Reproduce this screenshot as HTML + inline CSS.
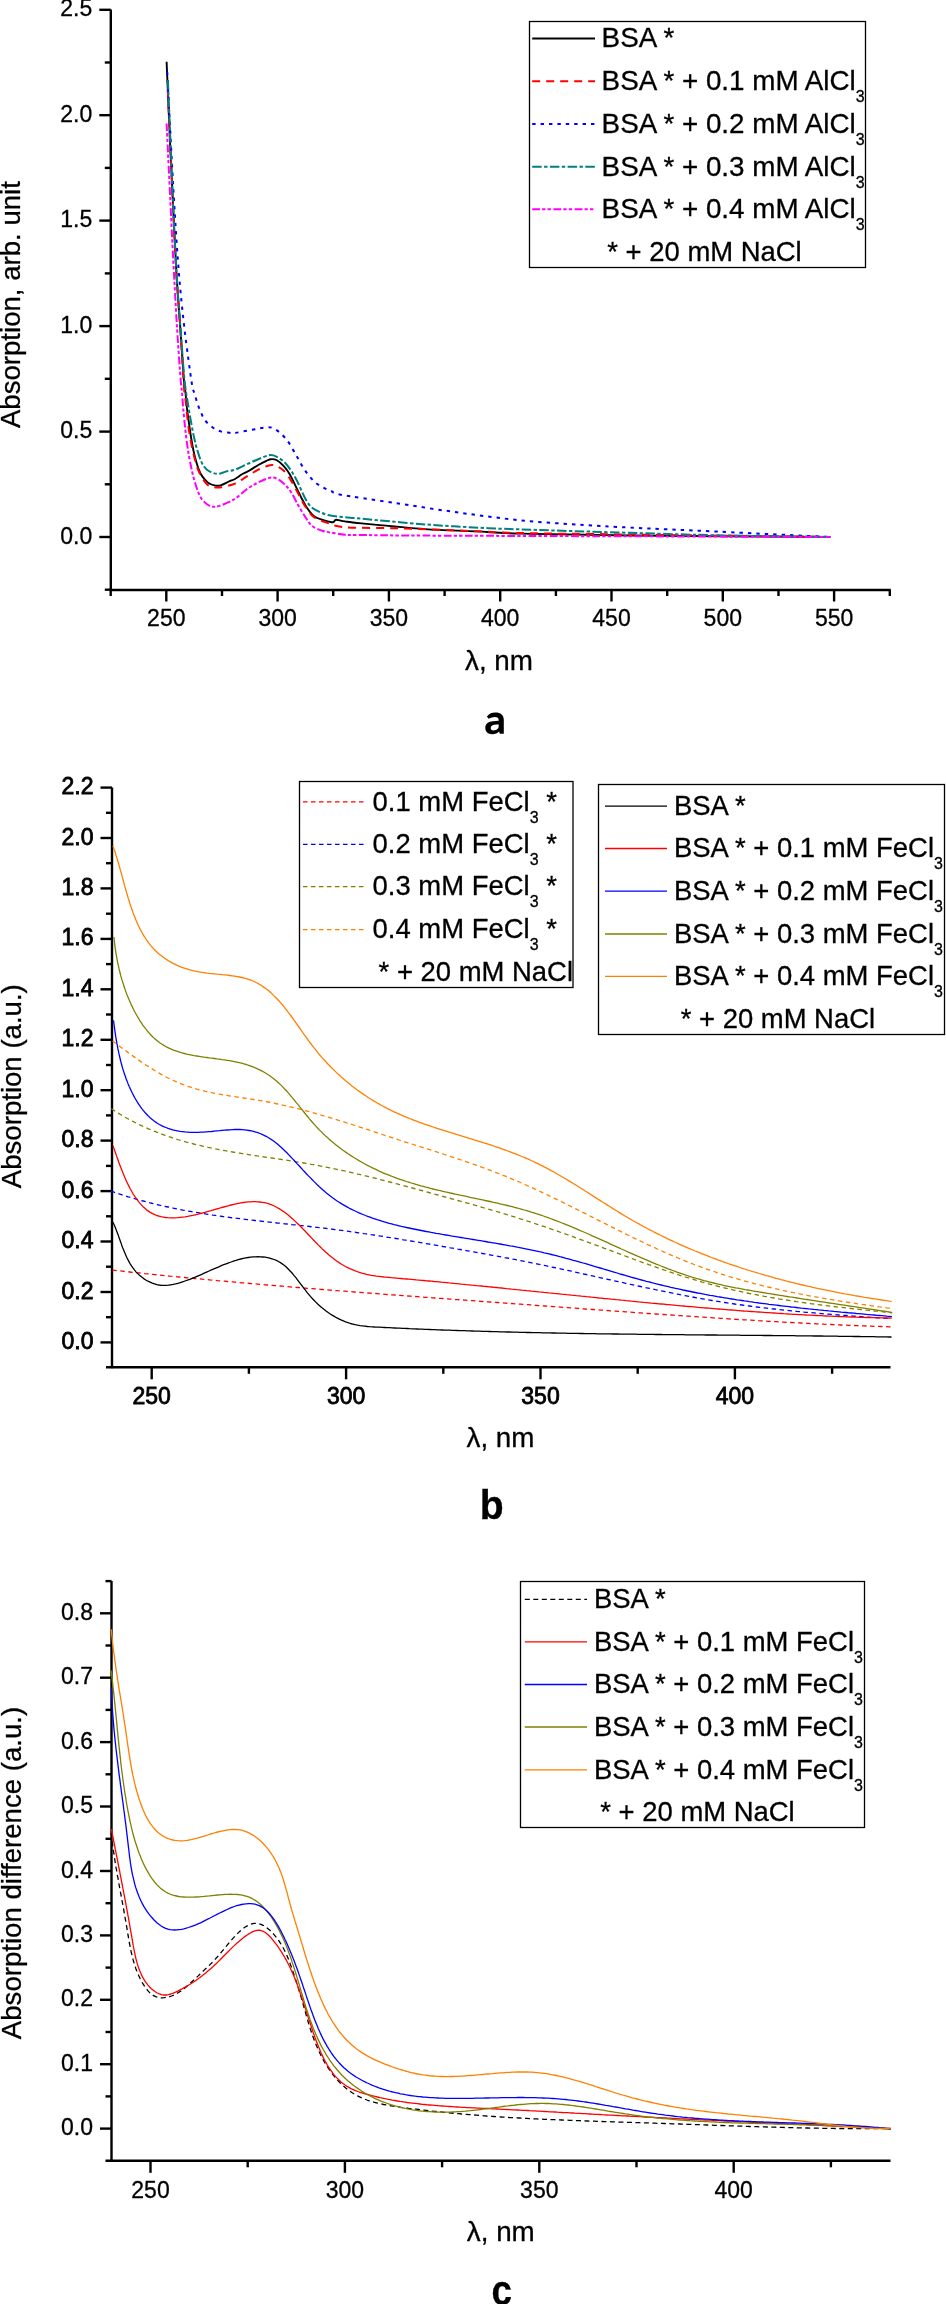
<!DOCTYPE html><html><head><meta charset="utf-8"><style>html,body{margin:0;padding:0;background:#fff;}svg{display:block;will-change:transform;}text{font-family:"Liberation Sans",sans-serif;fill:#000;stroke:#000;stroke-width:0.3px;} .tb{stroke-width:0.8px;} .lg{stroke-width:0.35px;}</style></head><body>
<svg width="946" height="2304" viewBox="0 0 946 2304">
<rect width="946" height="2304" fill="#fff"/>
<line x1="110.8" y1="9.5" x2="110.8" y2="591.0" stroke="#000" stroke-width="2.4"/>
<line x1="109.8" y1="590.0" x2="890.8" y2="590.0" stroke="#000" stroke-width="2.4"/>
<line x1="99.3" y1="537.0" x2="110.8" y2="537.0" stroke="#000" stroke-width="2.4"/>
<text x="92.3" y="543.5" font-size="23.0" text-anchor="end" font-weight="normal" >0.0</text>
<line x1="99.3" y1="431.6" x2="110.8" y2="431.6" stroke="#000" stroke-width="2.4"/>
<text x="92.3" y="438.1" font-size="23.0" text-anchor="end" font-weight="normal" >0.5</text>
<line x1="99.3" y1="326.1" x2="110.8" y2="326.1" stroke="#000" stroke-width="2.4"/>
<text x="92.3" y="332.6" font-size="23.0" text-anchor="end" font-weight="normal" >1.0</text>
<line x1="99.3" y1="220.6" x2="110.8" y2="220.6" stroke="#000" stroke-width="2.4"/>
<text x="92.3" y="227.1" font-size="23.0" text-anchor="end" font-weight="normal" >1.5</text>
<line x1="99.3" y1="115.2" x2="110.8" y2="115.2" stroke="#000" stroke-width="2.4"/>
<text x="92.3" y="121.7" font-size="23.0" text-anchor="end" font-weight="normal" >2.0</text>
<line x1="99.3" y1="9.8" x2="110.8" y2="9.8" stroke="#000" stroke-width="2.4"/>
<text x="92.3" y="16.2" font-size="23.0" text-anchor="end" font-weight="normal" >2.5</text>
<line x1="104.8" y1="589.7" x2="110.8" y2="589.7" stroke="#000" stroke-width="2.4"/>
<line x1="104.8" y1="484.3" x2="110.8" y2="484.3" stroke="#000" stroke-width="2.4"/>
<line x1="104.8" y1="378.8" x2="110.8" y2="378.8" stroke="#000" stroke-width="2.4"/>
<line x1="104.8" y1="273.4" x2="110.8" y2="273.4" stroke="#000" stroke-width="2.4"/>
<line x1="104.8" y1="167.9" x2="110.8" y2="167.9" stroke="#000" stroke-width="2.4"/>
<line x1="104.8" y1="62.5" x2="110.8" y2="62.5" stroke="#000" stroke-width="2.4"/>
<line x1="166.3" y1="590.0" x2="166.3" y2="601.5" stroke="#000" stroke-width="2.4"/>
<text x="166.3" y="626.3" font-size="23.0" text-anchor="middle" font-weight="normal" >250</text>
<line x1="277.6" y1="590.0" x2="277.6" y2="601.5" stroke="#000" stroke-width="2.4"/>
<text x="277.6" y="626.3" font-size="23.0" text-anchor="middle" font-weight="normal" >300</text>
<line x1="388.9" y1="590.0" x2="388.9" y2="601.5" stroke="#000" stroke-width="2.4"/>
<text x="388.9" y="626.3" font-size="23.0" text-anchor="middle" font-weight="normal" >350</text>
<line x1="500.2" y1="590.0" x2="500.2" y2="601.5" stroke="#000" stroke-width="2.4"/>
<text x="500.2" y="626.3" font-size="23.0" text-anchor="middle" font-weight="normal" >400</text>
<line x1="611.5" y1="590.0" x2="611.5" y2="601.5" stroke="#000" stroke-width="2.4"/>
<text x="611.5" y="626.3" font-size="23.0" text-anchor="middle" font-weight="normal" >450</text>
<line x1="722.8" y1="590.0" x2="722.8" y2="601.5" stroke="#000" stroke-width="2.4"/>
<text x="722.8" y="626.3" font-size="23.0" text-anchor="middle" font-weight="normal" >500</text>
<line x1="834.1" y1="590.0" x2="834.1" y2="601.5" stroke="#000" stroke-width="2.4"/>
<text x="834.1" y="626.3" font-size="23.0" text-anchor="middle" font-weight="normal" >550</text>
<line x1="110.7" y1="590.0" x2="110.7" y2="596.0" stroke="#000" stroke-width="2.4"/>
<line x1="222.0" y1="590.0" x2="222.0" y2="596.0" stroke="#000" stroke-width="2.4"/>
<line x1="333.2" y1="590.0" x2="333.2" y2="596.0" stroke="#000" stroke-width="2.4"/>
<line x1="444.6" y1="590.0" x2="444.6" y2="596.0" stroke="#000" stroke-width="2.4"/>
<line x1="555.9" y1="590.0" x2="555.9" y2="596.0" stroke="#000" stroke-width="2.4"/>
<line x1="667.2" y1="590.0" x2="667.2" y2="596.0" stroke="#000" stroke-width="2.4"/>
<line x1="778.5" y1="590.0" x2="778.5" y2="596.0" stroke="#000" stroke-width="2.4"/>
<line x1="889.8" y1="590.0" x2="889.8" y2="596.0" stroke="#000" stroke-width="2.4"/>
<text x="499.0" y="670.0" font-size="27.8" text-anchor="middle" font-weight="normal" >λ, nm</text>
<path transform="translate(485.3,712.4)" fill="#000" fill-rule="evenodd" d="M1.6,4.0 C4.2,0.9 6.8,0 9.8,0 C15.6,0 18.5,2.6 18.5,7.6 L18.5,21.4 L14.6,21.4 L13.7,19.1 C12.1,20.9 10,21.8 6.9,21.8 C2.6,21.8 0,19.4 0,15.4 C0,11.0 3.4,8.7 10.2,8.5 L13.4,8.4 L13.4,7.8 C13.4,5.6 12.1,4.5 9.6,4.5 C7.6,4.5 5.6,5.2 3.3,6.3 Z M13.4,12.0 L11.3,12.1 C7.3,12.3 5.4,13.4 5.4,15.5 C5.4,17.2 6.5,18.0 8.3,18.0 C11.1,18.0 13.4,16.5 13.4,13.6 Z"/>
<text transform="translate(20,304.6) rotate(-90)" font-size="27.6" text-anchor="middle">Absorption, arb. unit</text>
<path d="M166.6,61.7 C167.1,73.1 168.5,107.0 169.5,130.0 C170.5,153.1 171.6,176.0 172.8,200.0 C174.0,224.0 175.2,252.2 176.5,274.2 C177.8,296.2 179.4,314.4 180.6,332.0 C181.8,349.6 183.1,369.9 183.9,380.0 C184.7,390.1 185.0,387.9 185.5,392.7 C186.0,397.4 186.3,402.7 187.0,408.5 C187.7,414.3 188.8,421.8 189.6,427.6 C190.4,433.4 191.2,438.6 192.1,443.4 C192.9,448.1 193.6,451.9 194.7,456.1 C195.8,460.3 197.2,465.4 198.5,468.8 C199.8,472.2 200.7,474.1 202.3,476.4 C203.9,478.7 205.8,481.2 208.0,482.7 C210.2,484.2 213.5,485.2 215.6,485.6 C217.7,486.0 218.5,486.0 220.7,485.3 C222.9,484.6 226.5,482.6 228.9,481.5 C231.3,480.4 232.8,480.2 235.0,479.0 C237.2,477.8 239.7,475.7 242.0,474.3 C244.3,472.9 246.3,472.4 249.0,470.8 C251.7,469.2 255.4,466.6 258.3,465.0 C261.2,463.4 264.3,461.9 266.4,460.9 C268.5,459.9 269.2,459.3 271.0,459.2 C272.8,459.1 274.8,459.1 276.9,460.3 C279.0,461.5 281.7,463.9 283.8,466.2 C285.9,468.5 287.8,471.0 289.7,474.3 C291.6,477.6 293.6,482.0 295.5,485.9 C297.4,489.8 299.4,493.9 301.3,497.6 C303.2,501.3 305.0,504.9 307.1,508.0 C309.2,511.1 311.4,514.2 314.1,516.2 C316.8,518.2 320.5,519.2 323.4,520.2 C326.3,521.2 329.7,522.0 331.5,522.2 C333.3,522.4 333.2,522.0 334.0,521.6 C334.8,521.2 334.4,519.7 336.2,519.7 C338.0,519.7 340.8,520.8 345.0,521.4 C349.2,522.0 348.3,522.1 361.7,523.4 C375.1,524.7 406.1,527.8 425.1,529.1 C444.1,530.4 460.0,530.6 475.9,531.4 C491.8,532.1 494.6,532.9 520.3,533.6 C546.0,534.3 578.3,534.9 630.0,535.5 C681.7,536.1 796.9,536.8 830.3,537.0" fill="none" stroke="#000" stroke-width="1.9" stroke-linejoin="round" />
<path d="M167.8,90.7 C168.6,108.9 171.4,169.4 172.8,200.0 C174.2,230.6 175.2,252.2 176.5,274.2 C177.8,296.2 179.4,313.3 180.6,332.0 C181.8,350.7 183.0,374.6 183.9,386.3 C184.8,398.0 185.0,394.8 185.8,402.2 C186.7,409.6 187.6,421.7 189.0,430.7 C190.4,439.7 192.3,449.2 194.0,456.1 C195.7,463.0 197.0,467.4 199.1,472.0 C201.2,476.6 204.2,481.5 206.7,484.0 C209.2,486.5 211.9,486.7 214.3,487.2 C216.7,487.7 217.9,487.8 221.3,487.2 C224.8,486.6 230.8,485.4 235.0,483.6 C239.2,481.8 242.7,478.9 246.6,476.6 C250.5,474.3 254.4,471.6 258.3,469.7 C262.2,467.8 266.8,465.8 269.9,465.2 C273.0,464.6 274.6,465.3 276.9,466.2 C279.2,467.1 281.5,468.5 283.8,470.8 C286.1,473.1 288.5,476.4 290.8,480.1 C293.1,483.8 295.5,488.6 297.8,492.9 C300.1,497.2 302.1,501.6 304.8,505.7 C307.5,509.8 310.2,514.4 314.1,517.3 C318.0,520.2 322.9,521.5 328.0,523.1 C333.1,524.8 334.1,526.4 345.0,527.2 C355.9,528.1 374.8,527.7 393.4,528.2 C412.0,528.7 435.8,529.6 456.9,530.4 C478.0,531.2 491.4,532.3 520.3,533.0 C549.1,533.7 578.3,533.8 630.0,534.5 C681.7,535.2 796.9,536.6 830.3,537.0" fill="none" stroke="#ff0000" stroke-width="2" stroke-dasharray="8 6" stroke-linejoin="round" />
<path d="M167.2,71.7 C168.3,93.1 172.0,166.2 174.0,200.0 C176.0,233.8 177.3,253.6 179.0,274.2 C180.7,294.8 182.3,309.4 183.9,323.7 C185.5,338.0 187.1,349.8 188.5,360.0 C189.9,370.2 191.1,379.4 192.1,385.1 C193.1,390.8 193.8,391.1 194.7,394.0 C195.5,396.9 196.2,399.9 197.2,402.8 C198.1,405.7 199.1,408.2 200.4,411.1 C201.7,414.0 202.8,417.3 204.8,420.0 C206.8,422.7 209.8,425.3 212.4,427.2 C215.1,429.1 217.8,430.5 220.7,431.4 C223.5,432.3 227.1,432.5 229.5,432.8 C231.9,433.1 232.2,433.4 235.0,433.0 C237.8,432.6 242.7,431.4 246.6,430.7 C250.5,430.0 254.8,429.3 258.3,428.7 C261.8,428.1 265.1,427.2 267.6,427.2 C270.1,427.1 271.3,427.4 273.4,428.4 C275.5,429.4 278.0,431.0 280.3,433.0 C282.6,435.0 285.2,437.8 287.3,440.6 C289.4,443.4 291.4,447.0 293.1,449.9 C294.9,452.8 296.2,455.3 297.8,458.0 C299.4,460.7 300.6,463.4 302.4,466.2 C304.1,469.0 306.2,472.2 308.3,474.9 C310.4,477.6 312.7,480.3 315.2,482.4 C317.7,484.5 320.7,486.2 323.4,487.7 C326.1,489.2 328.6,490.0 331.5,491.2 C334.4,492.4 330.5,492.8 340.8,494.7 C351.1,496.6 374.0,499.9 393.4,502.8 C412.8,505.7 435.8,509.4 456.9,512.3 C478.0,515.2 499.2,518.2 520.3,520.3 C541.4,522.4 565.4,523.8 583.7,525.0 C602.0,526.2 607.7,526.5 630.0,527.6 C652.3,528.7 683.9,530.0 717.3,531.6 C750.7,533.2 811.5,536.1 830.3,537.0" fill="none" stroke="#0000ff" stroke-width="2" stroke-dasharray="3.4 5" stroke-linejoin="round" />
<path d="M167.9,80.0 C168.7,100.0 171.5,167.6 172.9,200.0 C174.3,232.4 175.3,252.2 176.6,274.2 C177.9,296.2 179.5,314.4 180.8,332.0 C182.1,349.6 183.3,368.3 184.5,380.0 C185.7,391.7 186.6,395.3 187.7,402.2 C188.8,409.1 189.8,415.4 190.9,421.2 C192.0,427.0 192.9,432.3 194.0,437.1 C195.1,441.9 195.9,445.6 197.2,449.8 C198.5,454.0 200.0,459.1 201.6,462.4 C203.2,465.7 204.8,467.6 206.7,469.4 C208.6,471.1 211.0,472.2 213.0,472.9 C215.0,473.6 216.7,474.0 218.8,473.8 C220.9,473.6 223.0,472.3 225.7,471.6 C228.4,470.9 231.5,470.9 235.0,469.7 C238.5,468.5 242.7,466.1 246.6,464.4 C250.5,462.6 254.4,460.8 258.3,459.2 C262.2,457.6 266.8,455.5 269.9,455.1 C273.0,454.7 274.4,455.6 276.9,456.9 C279.4,458.2 282.5,460.2 285.0,462.7 C287.5,465.2 289.9,468.7 292.0,472.0 C294.1,475.3 295.9,478.5 297.8,482.4 C299.7,486.3 301.7,491.4 303.6,495.2 C305.5,499.0 307.3,502.6 309.4,505.1 C311.5,507.6 313.3,508.7 316.4,510.3 C319.5,511.9 323.2,513.8 328.0,515.0 C332.8,516.2 339.4,516.7 345.0,517.3 C350.6,517.9 348.3,517.5 361.7,518.7 C375.1,519.9 404.0,522.8 425.1,524.4 C446.2,526.0 467.5,527.2 488.6,528.2 C509.8,529.2 528.4,529.6 552.0,530.4 C575.6,531.2 602.5,532.0 630.0,532.8 C657.5,533.6 683.9,534.6 717.3,535.3 C750.7,536.0 811.5,536.7 830.3,537.0" fill="none" stroke="#008080" stroke-width="2" stroke-dasharray="9.5 2.4 3.4 2.4" stroke-linejoin="round" />
<path d="M166.6,123.5 C167.2,136.2 169.1,174.9 170.3,200.0 C171.5,225.1 172.8,252.2 174.0,274.2 C175.2,296.2 176.2,314.4 177.3,332.0 C178.4,349.6 179.9,369.9 180.7,380.0 C181.5,390.1 181.6,387.9 182.0,392.7 C182.4,397.4 182.7,402.7 183.2,408.5 C183.7,414.3 184.5,421.8 185.1,427.6 C185.7,433.4 186.3,438.6 187.0,443.4 C187.7,448.1 188.2,451.9 189.0,456.1 C189.8,460.3 190.6,464.6 191.5,468.8 C192.4,473.0 193.5,477.5 194.7,481.5 C195.9,485.5 197.1,489.7 198.5,492.9 C199.9,496.1 200.9,498.3 202.9,500.5 C204.9,502.7 207.8,505.3 210.5,506.2 C213.2,507.1 215.3,507.1 219.4,505.9 C223.5,504.6 230.5,501.4 235.0,498.7 C239.5,495.9 242.7,492.1 246.6,489.4 C250.5,486.7 254.4,484.3 258.3,482.4 C262.2,480.5 266.8,478.4 269.9,477.8 C273.0,477.2 274.6,477.7 276.9,478.7 C279.2,479.7 281.5,481.4 283.8,483.6 C286.1,485.8 288.5,488.2 290.8,491.7 C293.1,495.2 295.5,500.4 297.8,504.5 C300.1,508.6 302.5,512.7 304.8,516.2 C307.1,519.7 308.8,523.1 311.7,525.5 C314.6,527.9 318.5,529.5 322.2,530.7 C325.9,532.0 330.0,532.3 333.8,533.0 C337.6,533.7 340.4,534.5 345.0,534.8 C349.6,535.1 348.3,534.9 361.7,535.0 C375.1,535.1 380.4,535.4 425.1,535.6 C469.8,535.8 562.5,536.1 630.0,536.3 C697.5,536.5 796.9,536.9 830.3,537.0" fill="none" stroke="#ff00ff" stroke-width="2" stroke-dasharray="7.8 2.1 3.3 2.1 3.4 2.5" stroke-linejoin="round" />
<rect x="529.5" y="21.5" width="336" height="246" fill="none" stroke="#000" stroke-width="1.3"/>
<line x1="532.2" y1="38.4" x2="595" y2="38.4" stroke="#000" stroke-width="2"/>
<text x="601.6" y="47.1" font-size="27.8" text-anchor="start" font-weight="normal" >BSA *</text>
<line x1="532.2" y1="81.3" x2="595" y2="81.3" stroke="#ff0000" stroke-width="2" stroke-dasharray="8 6"/>
<text x="601.6" y="90.0" font-size="27.8" text-anchor="start" font-weight="normal" >BSA * + 0.1 mM AlCl<tspan font-size="16" dy="12">3</tspan></text>
<line x1="532.2" y1="124.0" x2="595" y2="124.0" stroke="#0000ff" stroke-width="2" stroke-dasharray="3.4 5"/>
<text x="601.6" y="132.7" font-size="27.8" text-anchor="start" font-weight="normal" >BSA * + 0.2 mM AlCl<tspan font-size="16" dy="12">3</tspan></text>
<line x1="532.2" y1="166.8" x2="595" y2="166.8" stroke="#008080" stroke-width="2" stroke-dasharray="9.5 2.4 3.4 2.4"/>
<text x="601.6" y="175.5" font-size="27.8" text-anchor="start" font-weight="normal" >BSA * + 0.3 mM AlCl<tspan font-size="16" dy="12">3</tspan></text>
<line x1="532.2" y1="209.3" x2="595" y2="209.3" stroke="#ff00ff" stroke-width="2" stroke-dasharray="7.8 2.1 3.3 2.1 3.4 2.5"/>
<text x="601.6" y="218.0" font-size="27.8" text-anchor="start" font-weight="normal" >BSA * + 0.4 mM AlCl<tspan font-size="16" dy="12">3</tspan></text>
<text x="607.3" y="261.0" font-size="27.45" text-anchor="start" font-weight="normal" >* + 20 mM NaCl</text>
<line x1="112.0" y1="787.6" x2="112.0" y2="1368.3" stroke="#000" stroke-width="2.4"/>
<line x1="106.0" y1="1367.3" x2="890.5" y2="1367.3" stroke="#000" stroke-width="2.4"/>
<line x1="100.5" y1="1342.4" x2="112.0" y2="1342.4" stroke="#000" stroke-width="2.4"/>
<text x="93.5" y="1348.9" font-size="23.0" text-anchor="end" font-weight="normal" class="tb" >0.0</text>
<line x1="100.5" y1="1292.0" x2="112.0" y2="1292.0" stroke="#000" stroke-width="2.4"/>
<text x="93.5" y="1298.5" font-size="23.0" text-anchor="end" font-weight="normal" class="tb" >0.2</text>
<line x1="100.5" y1="1241.5" x2="112.0" y2="1241.5" stroke="#000" stroke-width="2.4"/>
<text x="93.5" y="1248.0" font-size="23.0" text-anchor="end" font-weight="normal" class="tb" >0.4</text>
<line x1="100.5" y1="1191.1" x2="112.0" y2="1191.1" stroke="#000" stroke-width="2.4"/>
<text x="93.5" y="1197.6" font-size="23.0" text-anchor="end" font-weight="normal" class="tb" >0.6</text>
<line x1="100.5" y1="1140.6" x2="112.0" y2="1140.6" stroke="#000" stroke-width="2.4"/>
<text x="93.5" y="1147.1" font-size="23.0" text-anchor="end" font-weight="normal" class="tb" >0.8</text>
<line x1="100.5" y1="1090.2" x2="112.0" y2="1090.2" stroke="#000" stroke-width="2.4"/>
<text x="93.5" y="1096.7" font-size="23.0" text-anchor="end" font-weight="normal" class="tb" >1.0</text>
<line x1="100.5" y1="1039.8" x2="112.0" y2="1039.8" stroke="#000" stroke-width="2.4"/>
<text x="93.5" y="1046.3" font-size="23.0" text-anchor="end" font-weight="normal" class="tb" >1.2</text>
<line x1="100.5" y1="989.3" x2="112.0" y2="989.3" stroke="#000" stroke-width="2.4"/>
<text x="93.5" y="995.8" font-size="23.0" text-anchor="end" font-weight="normal" class="tb" >1.4</text>
<line x1="100.5" y1="938.9" x2="112.0" y2="938.9" stroke="#000" stroke-width="2.4"/>
<text x="93.5" y="945.4" font-size="23.0" text-anchor="end" font-weight="normal" class="tb" >1.6</text>
<line x1="100.5" y1="888.4" x2="112.0" y2="888.4" stroke="#000" stroke-width="2.4"/>
<text x="93.5" y="894.9" font-size="23.0" text-anchor="end" font-weight="normal" class="tb" >1.8</text>
<line x1="100.5" y1="838.0" x2="112.0" y2="838.0" stroke="#000" stroke-width="2.4"/>
<text x="93.5" y="844.5" font-size="23.0" text-anchor="end" font-weight="normal" class="tb" >2.0</text>
<line x1="100.5" y1="787.6" x2="112.0" y2="787.6" stroke="#000" stroke-width="2.4"/>
<text x="93.5" y="794.1" font-size="23.0" text-anchor="end" font-weight="normal" class="tb" >2.2</text>
<line x1="106.0" y1="1317.2" x2="112.0" y2="1317.2" stroke="#000" stroke-width="2.4"/>
<line x1="106.0" y1="1266.7" x2="112.0" y2="1266.7" stroke="#000" stroke-width="2.4"/>
<line x1="106.0" y1="1216.3" x2="112.0" y2="1216.3" stroke="#000" stroke-width="2.4"/>
<line x1="106.0" y1="1165.9" x2="112.0" y2="1165.9" stroke="#000" stroke-width="2.4"/>
<line x1="106.0" y1="1115.4" x2="112.0" y2="1115.4" stroke="#000" stroke-width="2.4"/>
<line x1="106.0" y1="1065.0" x2="112.0" y2="1065.0" stroke="#000" stroke-width="2.4"/>
<line x1="106.0" y1="1014.5" x2="112.0" y2="1014.5" stroke="#000" stroke-width="2.4"/>
<line x1="106.0" y1="964.1" x2="112.0" y2="964.1" stroke="#000" stroke-width="2.4"/>
<line x1="106.0" y1="913.7" x2="112.0" y2="913.7" stroke="#000" stroke-width="2.4"/>
<line x1="106.0" y1="863.2" x2="112.0" y2="863.2" stroke="#000" stroke-width="2.4"/>
<line x1="106.0" y1="812.8" x2="112.0" y2="812.8" stroke="#000" stroke-width="2.4"/>
<line x1="151.7" y1="1367.3" x2="151.7" y2="1379.3" stroke="#000" stroke-width="2.4"/>
<text x="151.7" y="1404.3" font-size="23.0" text-anchor="middle" font-weight="normal" class="tb" >250</text>
<line x1="346.1" y1="1367.3" x2="346.1" y2="1379.3" stroke="#000" stroke-width="2.4"/>
<text x="346.1" y="1404.3" font-size="23.0" text-anchor="middle" font-weight="normal" class="tb" >300</text>
<line x1="540.5" y1="1367.3" x2="540.5" y2="1379.3" stroke="#000" stroke-width="2.4"/>
<text x="540.5" y="1404.3" font-size="23.0" text-anchor="middle" font-weight="normal" class="tb" >350</text>
<line x1="734.9" y1="1367.3" x2="734.9" y2="1379.3" stroke="#000" stroke-width="2.4"/>
<text x="734.9" y="1404.3" font-size="23.0" text-anchor="middle" font-weight="normal" class="tb" >400</text>
<line x1="248.9" y1="1367.3" x2="248.9" y2="1373.8" stroke="#000" stroke-width="2.4"/>
<line x1="443.3" y1="1367.3" x2="443.3" y2="1373.8" stroke="#000" stroke-width="2.4"/>
<line x1="637.7" y1="1367.3" x2="637.7" y2="1373.8" stroke="#000" stroke-width="2.4"/>
<line x1="832.1" y1="1367.3" x2="832.1" y2="1373.8" stroke="#000" stroke-width="2.4"/>
<text x="500.5" y="1447.2" font-size="27.8" text-anchor="middle" font-weight="normal" >λ, nm</text>
<text transform="translate(491.6,1519.2) scale(0.98,1)" font-size="40" text-anchor="middle" font-weight="bold">b</text>
<text transform="translate(20.5,1086.2) rotate(-90)" font-size="27.6" text-anchor="middle">Absorption (a.u.)</text>
<path d="M112.3,1270.1 L114.8,1270.4 L117.3,1270.7 L119.8,1270.9 L122.3,1271.2 L124.8,1271.5 L127.3,1271.7 L129.8,1272.0 L132.3,1272.3 L134.8,1272.5 L137.3,1272.8 L139.8,1273.0 L142.3,1273.3 L144.8,1273.6 L147.3,1273.8 L149.8,1274.1 L152.3,1274.3 L154.8,1274.6 L157.3,1274.8 L159.8,1275.1 L162.3,1275.3 L164.8,1275.6 L167.3,1275.8 L169.8,1276.1 L172.3,1276.3 L174.8,1276.6 L177.3,1276.8 L179.8,1277.0 L182.3,1277.3 L184.8,1277.5 L187.3,1277.8 L189.8,1278.0 L192.3,1278.2 L194.8,1278.5 L197.3,1278.7 L199.8,1278.9 L202.4,1279.2 L204.9,1279.4 L207.4,1279.6 L209.9,1279.9 L212.4,1280.1 L214.9,1280.3 L217.4,1280.6 L219.9,1280.8 L222.4,1281.0 L224.9,1281.2 L227.4,1281.5 L229.9,1281.7 L232.4,1281.9 L234.9,1282.1 L237.4,1282.4 L239.9,1282.6 L242.4,1282.8 L244.9,1283.0 L247.4,1283.2 L249.9,1283.5 L252.4,1283.7 L254.9,1283.9 L257.4,1284.1 L259.9,1284.3 L262.4,1284.5 L264.9,1284.8 L267.4,1285.0 L269.9,1285.2 L272.4,1285.4 L274.9,1285.6 L277.4,1285.8 L279.9,1286.0 L282.4,1286.2 L284.9,1286.4 L287.4,1286.6 L289.9,1286.8 L292.4,1287.1 L294.9,1287.3 L297.5,1287.5 L300.0,1287.7 L302.5,1287.9 L305.0,1288.1 L307.5,1288.3 L310.0,1288.5 L312.5,1288.7 L315.0,1288.9 L317.5,1289.1 L320.0,1289.3 L322.5,1289.5 L325.0,1289.7 L327.5,1289.9 L330.0,1290.1 L332.5,1290.3 L335.0,1290.5 L337.5,1290.7 L340.0,1290.8 L342.5,1291.0 L345.0,1291.2 L347.5,1291.4 L350.0,1291.6 L352.5,1291.8 L355.0,1292.0 L357.5,1292.2 L360.0,1292.4 L362.6,1292.6 L365.1,1292.8 L367.6,1293.0 L370.1,1293.2 L372.6,1293.3 L375.1,1293.5 L377.6,1293.7 L380.1,1293.9 L382.6,1294.1 L385.1,1294.3 L387.6,1294.5 L390.1,1294.7 L392.6,1294.9 L395.1,1295.0 L397.6,1295.2 L400.1,1295.4 L402.6,1295.6 L405.1,1295.8 L407.6,1296.0 L410.1,1296.2 L412.6,1296.3 L415.1,1296.5 L417.7,1296.7 L420.2,1296.9 L422.7,1297.1 L425.2,1297.3 L427.7,1297.4 L430.2,1297.6 L432.7,1297.8 L435.2,1298.0 L437.7,1298.2 L440.2,1298.4 L442.7,1298.5 L445.2,1298.7 L447.7,1298.9 L450.2,1299.1 L452.7,1299.3 L455.2,1299.5 L457.7,1299.6 L460.2,1299.8 L462.7,1300.0 L465.3,1300.2 L467.8,1300.4 L470.3,1300.5 L472.8,1300.7 L475.3,1300.9 L477.8,1301.1 L480.3,1301.3 L482.8,1301.5 L485.3,1301.6 L487.8,1301.8 L490.3,1302.0 L492.8,1302.2 L495.3,1302.4 L497.8,1302.5 L500.3,1302.7 L502.8,1302.9 L505.3,1303.1 L507.9,1303.3 L510.4,1303.5 L512.9,1303.6 L515.4,1303.8 L517.9,1304.0 L520.4,1304.2 L522.9,1304.4 L525.4,1304.5 L527.9,1304.7 L530.4,1304.9 L532.9,1305.1 L535.4,1305.3 L537.9,1305.5 L540.4,1305.6 L542.9,1305.8 L545.5,1306.0 L548.0,1306.2 L550.5,1306.4 L553.0,1306.6 L555.5,1306.7 L558.0,1306.9 L560.5,1307.1 L563.0,1307.3 L565.5,1307.5 L568.0,1307.7 L570.5,1307.9 L573.0,1308.0 L575.5,1308.2 L578.0,1308.4 L580.5,1308.6 L583.1,1308.8 L585.6,1309.0 L588.1,1309.1 L590.6,1309.3 L593.1,1309.5 L595.6,1309.7 L598.1,1309.9 L600.6,1310.1 L603.1,1310.2 L605.6,1310.4 L608.1,1310.6 L610.6,1310.8 L613.1,1311.0 L615.6,1311.1 L618.1,1311.3 L620.7,1311.5 L623.2,1311.7 L625.7,1311.9 L628.2,1312.0 L630.7,1312.2 L633.2,1312.4 L635.7,1312.6 L638.2,1312.8 L640.7,1312.9 L643.2,1313.1 L645.7,1313.3 L648.2,1313.5 L650.7,1313.7 L653.3,1313.8 L655.8,1314.0 L658.3,1314.2 L660.8,1314.4 L663.3,1314.5 L665.8,1314.7 L668.3,1314.9 L670.8,1315.0 L673.3,1315.2 L675.8,1315.4 L678.3,1315.6 L680.8,1315.7 L683.3,1315.9 L685.8,1316.1 L688.4,1316.2 L690.9,1316.4 L693.4,1316.6 L695.9,1316.7 L698.4,1316.9 L700.9,1317.1 L703.4,1317.2 L705.9,1317.4 L708.4,1317.6 L710.9,1317.7 L713.4,1317.9 L715.9,1318.1 L718.5,1318.2 L721.0,1318.4 L723.5,1318.5 L726.0,1318.7 L728.5,1318.9 L731.0,1319.0 L733.5,1319.2 L736.0,1319.3 L738.5,1319.5 L741.0,1319.6 L743.5,1319.8 L746.0,1319.9 L748.5,1320.1 L751.1,1320.2 L753.6,1320.4 L756.1,1320.5 L758.6,1320.7 L761.1,1320.8 L763.6,1321.0 L766.1,1321.1 L768.6,1321.3 L771.1,1321.4 L773.6,1321.6 L776.1,1321.7 L778.6,1321.8 L781.2,1322.0 L783.7,1322.1 L786.2,1322.3 L788.7,1322.4 L791.2,1322.5 L793.7,1322.7 L796.2,1322.8 L798.7,1322.9 L801.2,1323.0 L803.7,1323.2 L806.2,1323.3 L808.7,1323.4 L811.3,1323.6 L813.8,1323.7 L816.3,1323.8 L818.8,1323.9 L821.3,1324.0 L823.8,1324.2 L826.3,1324.3 L828.8,1324.4 L831.3,1324.5 L833.8,1324.6 L836.3,1324.7 L838.8,1324.9 L841.4,1325.0 L843.9,1325.1 L846.4,1325.2 L848.9,1325.3 L851.4,1325.4 L853.9,1325.5 L856.4,1325.6 L858.9,1325.7 L861.4,1325.8 L863.9,1325.9 L866.4,1326.0 L868.9,1326.1 L871.5,1326.2 L874.0,1326.3 L876.5,1326.4 L879.0,1326.4 L881.5,1326.5 L884.0,1326.6 L886.5,1326.7 L889.0,1326.8 L891.5,1326.9" fill="none" stroke="#ff0000" stroke-width="1.3" stroke-dasharray="4.5 3.5" stroke-linejoin="round"/>
<path d="M110.8,1191.1 L113.3,1191.9 L115.8,1192.8 L118.3,1193.6 L120.7,1194.4 L123.2,1195.2 L125.7,1196.0 L128.2,1196.8 L130.7,1197.5 L133.2,1198.2 L135.7,1199.0 L138.2,1199.7 L140.7,1200.4 L143.2,1201.0 L145.7,1201.7 L148.2,1202.3 L150.6,1203.0 L153.1,1203.6 L155.6,1204.2 L158.1,1204.8 L160.6,1205.4 L163.1,1205.9 L165.6,1206.5 L168.1,1207.0 L170.5,1207.6 L173.0,1208.1 L175.5,1208.6 L178.0,1209.1 L180.5,1209.6 L183.0,1210.1 L185.5,1210.5 L187.9,1211.0 L190.4,1211.4 L192.9,1211.9 L195.4,1212.3 L197.9,1212.7 L200.4,1213.1 L202.9,1213.5 L205.3,1213.9 L207.8,1214.3 L210.3,1214.7 L212.8,1215.1 L215.3,1215.4 L217.8,1215.8 L220.2,1216.1 L222.7,1216.5 L225.2,1216.8 L227.7,1217.1 L230.2,1217.5 L232.6,1217.8 L235.1,1218.1 L237.6,1218.4 L240.1,1218.7 L242.6,1219.0 L245.0,1219.3 L247.5,1219.6 L250.0,1219.9 L252.5,1220.2 L255.0,1220.5 L257.4,1220.8 L259.9,1221.0 L262.4,1221.3 L264.9,1221.6 L267.4,1221.9 L269.8,1222.1 L272.3,1222.4 L274.8,1222.7 L277.3,1223.0 L279.7,1223.2 L282.2,1223.5 L284.7,1223.8 L287.2,1224.0 L289.7,1224.3 L292.1,1224.6 L294.6,1224.8 L297.1,1225.1 L299.6,1225.4 L302.0,1225.6 L304.5,1225.9 L307.0,1226.2 L309.5,1226.5 L311.9,1226.8 L314.4,1227.0 L316.9,1227.3 L319.4,1227.6 L321.8,1227.9 L324.3,1228.2 L326.8,1228.5 L329.3,1228.8 L331.7,1229.1 L334.2,1229.5 L336.7,1229.8 L339.2,1230.1 L341.6,1230.4 L344.1,1230.8 L346.6,1231.1 L349.0,1231.4 L351.5,1231.8 L354.0,1232.1 L356.5,1232.5 L358.9,1232.8 L361.4,1233.2 L363.9,1233.6 L366.4,1233.9 L368.8,1234.3 L371.3,1234.7 L373.8,1235.0 L376.2,1235.4 L378.7,1235.8 L381.2,1236.2 L383.7,1236.6 L386.1,1237.0 L388.6,1237.4 L391.1,1237.7 L393.5,1238.1 L396.0,1238.5 L398.5,1238.9 L401.0,1239.3 L403.4,1239.8 L405.9,1240.2 L408.4,1240.6 L410.8,1241.0 L413.3,1241.4 L415.8,1241.8 L418.2,1242.2 L420.7,1242.6 L423.2,1243.1 L425.7,1243.5 L428.1,1243.9 L430.6,1244.3 L433.1,1244.8 L435.5,1245.2 L438.0,1245.6 L440.5,1246.0 L442.9,1246.5 L445.4,1246.9 L447.9,1247.3 L450.4,1247.8 L452.8,1248.2 L455.3,1248.6 L457.8,1249.1 L460.2,1249.5 L462.7,1249.9 L465.2,1250.4 L467.6,1250.8 L470.1,1251.3 L472.6,1251.7 L475.1,1252.1 L477.5,1252.6 L480.0,1253.0 L482.5,1253.5 L484.9,1253.9 L487.4,1254.4 L489.9,1254.8 L492.3,1255.3 L494.8,1255.7 L497.3,1256.2 L499.7,1256.6 L502.2,1257.1 L504.7,1257.6 L507.2,1258.0 L509.6,1258.5 L512.1,1259.0 L514.6,1259.4 L517.0,1259.9 L519.5,1260.4 L522.0,1260.9 L524.4,1261.4 L526.9,1261.9 L529.4,1262.4 L531.8,1262.9 L534.3,1263.4 L536.8,1263.9 L539.3,1264.4 L541.7,1264.9 L544.2,1265.4 L546.7,1265.9 L549.1,1266.5 L551.6,1267.0 L554.1,1267.5 L556.5,1268.0 L559.0,1268.6 L561.5,1269.1 L564.0,1269.6 L566.4,1270.2 L568.9,1270.7 L571.4,1271.2 L573.8,1271.8 L576.3,1272.3 L578.8,1272.9 L581.2,1273.4 L583.7,1274.0 L586.2,1274.5 L588.7,1275.1 L591.1,1275.6 L593.6,1276.2 L596.1,1276.7 L598.5,1277.3 L601.0,1277.8 L603.5,1278.4 L605.9,1278.9 L608.4,1279.5 L610.9,1280.0 L613.4,1280.6 L615.8,1281.1 L618.3,1281.7 L620.8,1282.2 L623.2,1282.7 L625.7,1283.3 L628.2,1283.8 L630.7,1284.4 L633.1,1284.9 L635.6,1285.4 L638.1,1286.0 L640.6,1286.5 L643.0,1287.0 L645.5,1287.6 L648.0,1288.1 L650.4,1288.6 L652.9,1289.1 L655.4,1289.7 L657.9,1290.2 L660.3,1290.7 L662.8,1291.2 L665.3,1291.7 L667.8,1292.2 L670.2,1292.7 L672.7,1293.2 L675.2,1293.7 L677.7,1294.2 L680.1,1294.7 L682.6,1295.1 L685.1,1295.6 L687.6,1296.1 L690.0,1296.6 L692.5,1297.0 L695.0,1297.5 L697.5,1297.9 L699.9,1298.4 L702.4,1298.8 L704.9,1299.2 L707.4,1299.7 L709.8,1300.1 L712.3,1300.5 L714.8,1300.9 L717.3,1301.3 L719.7,1301.7 L722.2,1302.1 L724.7,1302.5 L727.2,1302.9 L729.6,1303.3 L732.1,1303.6 L734.6,1304.0 L737.1,1304.4 L739.6,1304.7 L742.0,1305.0 L744.5,1305.4 L747.0,1305.7 L749.5,1306.0 L752.0,1306.4 L754.4,1306.7 L756.9,1307.0 L759.4,1307.3 L761.9,1307.6 L764.4,1307.9 L766.8,1308.2 L769.3,1308.5 L771.8,1308.8 L774.3,1309.0 L776.8,1309.3 L779.2,1309.6 L781.7,1309.8 L784.2,1310.1 L786.7,1310.4 L789.2,1310.6 L791.7,1310.9 L794.1,1311.1 L796.6,1311.4 L799.1,1311.6 L801.6,1311.8 L804.1,1312.1 L806.6,1312.3 L809.0,1312.5 L811.5,1312.7 L814.0,1312.9 L816.5,1313.2 L819.0,1313.4 L821.5,1313.6 L824.0,1313.8 L826.4,1314.0 L828.9,1314.2 L831.4,1314.4 L833.9,1314.6 L836.4,1314.8 L838.9,1315.0 L841.4,1315.2 L843.9,1315.3 L846.3,1315.5 L848.8,1315.7 L851.3,1315.9 L853.8,1316.1 L856.3,1316.3 L858.8,1316.4 L861.3,1316.6 L863.8,1316.8 L866.3,1317.0 L868.8,1317.1 L871.2,1317.3 L873.7,1317.5 L876.2,1317.6 L878.7,1317.8 L881.2,1318.0 L883.7,1318.2 L886.2,1318.3 L888.7,1318.5 L891.2,1318.7" fill="none" stroke="#0000ff" stroke-width="1.3" stroke-dasharray="4.5 3.5" stroke-linejoin="round"/>
<path d="M111.4,1108.7 L113.7,1110.2 L115.9,1111.7 L118.2,1113.1 L120.5,1114.5 L122.8,1115.8 L125.1,1117.2 L127.4,1118.5 L129.7,1119.7 L132.1,1121.0 L134.4,1122.2 L136.7,1123.3 L139.0,1124.5 L141.4,1125.6 L143.7,1126.7 L146.1,1127.7 L148.4,1128.8 L150.8,1129.8 L153.1,1130.8 L155.5,1131.7 L157.8,1132.6 L160.2,1133.6 L162.6,1134.4 L164.9,1135.3 L167.3,1136.1 L169.7,1136.9 L172.1,1137.7 L174.5,1138.5 L176.8,1139.3 L179.2,1140.0 L181.6,1140.7 L184.0,1141.4 L186.4,1142.1 L188.8,1142.7 L191.2,1143.3 L193.7,1144.0 L196.1,1144.6 L198.5,1145.2 L200.9,1145.7 L203.3,1146.3 L205.7,1146.8 L208.2,1147.4 L210.6,1147.9 L213.0,1148.4 L215.5,1148.9 L217.9,1149.3 L220.3,1149.8 L222.8,1150.3 L225.2,1150.7 L227.6,1151.2 L230.1,1151.6 L232.5,1152.0 L235.0,1152.4 L237.4,1152.8 L239.9,1153.2 L242.3,1153.6 L244.8,1154.0 L247.2,1154.4 L249.7,1154.8 L252.1,1155.1 L254.6,1155.5 L257.1,1155.9 L259.5,1156.2 L262.0,1156.6 L264.4,1157.0 L266.9,1157.3 L269.4,1157.7 L271.8,1158.0 L274.3,1158.4 L276.7,1158.8 L279.2,1159.1 L281.7,1159.5 L284.1,1159.9 L286.6,1160.2 L289.1,1160.6 L291.5,1161.0 L294.0,1161.4 L296.5,1161.8 L298.9,1162.2 L301.4,1162.6 L303.8,1163.0 L306.3,1163.4 L308.8,1163.8 L311.2,1164.3 L313.7,1164.7 L316.2,1165.2 L318.6,1165.6 L321.1,1166.1 L323.5,1166.6 L326.0,1167.1 L328.5,1167.6 L330.9,1168.1 L333.4,1168.6 L335.8,1169.1 L338.3,1169.6 L340.8,1170.2 L343.2,1170.7 L345.7,1171.2 L348.1,1171.8 L350.6,1172.3 L353.0,1172.9 L355.5,1173.5 L357.9,1174.1 L360.4,1174.6 L362.8,1175.2 L365.3,1175.8 L367.7,1176.4 L370.2,1177.0 L372.6,1177.6 L375.1,1178.2 L377.5,1178.9 L380.0,1179.5 L382.4,1180.1 L384.9,1180.7 L387.3,1181.4 L389.8,1182.0 L392.2,1182.6 L394.6,1183.3 L397.1,1183.9 L399.5,1184.6 L402.0,1185.2 L404.4,1185.9 L406.8,1186.5 L409.3,1187.2 L411.7,1187.8 L414.2,1188.5 L416.6,1189.2 L419.0,1189.8 L421.5,1190.5 L423.9,1191.2 L426.3,1191.8 L428.8,1192.5 L431.2,1193.1 L433.6,1193.8 L436.0,1194.5 L438.5,1195.1 L440.9,1195.8 L443.3,1196.5 L445.7,1197.1 L448.2,1197.8 L450.6,1198.5 L453.0,1199.1 L455.4,1199.8 L457.9,1200.5 L460.3,1201.2 L462.7,1201.8 L465.1,1202.5 L467.5,1203.2 L470.0,1203.9 L472.4,1204.5 L474.8,1205.2 L477.2,1205.9 L479.6,1206.6 L482.0,1207.3 L484.4,1208.0 L486.8,1208.7 L489.2,1209.4 L491.7,1210.1 L494.1,1210.8 L496.5,1211.5 L498.9,1212.2 L501.3,1212.9 L503.7,1213.7 L506.1,1214.4 L508.5,1215.1 L510.9,1215.9 L513.3,1216.6 L515.7,1217.3 L518.1,1218.1 L520.5,1218.9 L522.9,1219.6 L525.3,1220.4 L527.6,1221.2 L530.0,1221.9 L532.4,1222.7 L534.8,1223.5 L537.2,1224.3 L539.6,1225.1 L542.0,1225.9 L544.4,1226.7 L546.7,1227.5 L549.1,1228.3 L551.5,1229.2 L553.9,1230.0 L556.3,1230.8 L558.6,1231.6 L561.0,1232.5 L563.4,1233.3 L565.8,1234.2 L568.2,1235.0 L570.5,1235.9 L572.9,1236.7 L575.3,1237.6 L577.7,1238.4 L580.0,1239.3 L582.4,1240.2 L584.8,1241.0 L587.2,1241.9 L589.5,1242.8 L591.9,1243.7 L594.3,1244.5 L596.6,1245.4 L599.0,1246.3 L601.4,1247.2 L603.8,1248.1 L606.1,1248.9 L608.5,1249.8 L610.9,1250.7 L613.2,1251.6 L615.6,1252.5 L618.0,1253.3 L620.4,1254.2 L622.7,1255.1 L625.1,1256.0 L627.5,1256.9 L629.9,1257.8 L632.2,1258.6 L634.6,1259.5 L637.0,1260.4 L639.3,1261.2 L641.7,1262.1 L644.1,1263.0 L646.5,1263.8 L648.8,1264.7 L651.2,1265.5 L653.6,1266.4 L656.0,1267.2 L658.4,1268.1 L660.7,1268.9 L663.1,1269.7 L665.5,1270.5 L667.9,1271.3 L670.3,1272.1 L672.6,1272.9 L675.0,1273.7 L677.4,1274.5 L679.8,1275.3 L682.2,1276.0 L684.6,1276.8 L687.0,1277.5 L689.4,1278.3 L691.7,1279.0 L694.1,1279.7 L696.5,1280.4 L698.9,1281.1 L701.3,1281.8 L703.7,1282.5 L706.1,1283.1 L708.5,1283.8 L710.9,1284.4 L713.3,1285.1 L715.7,1285.7 L718.1,1286.3 L720.5,1286.9 L723.0,1287.5 L725.4,1288.1 L727.8,1288.7 L730.2,1289.2 L732.6,1289.8 L735.0,1290.3 L737.4,1290.9 L739.9,1291.4 L742.3,1291.9 L744.7,1292.5 L747.1,1293.0 L749.6,1293.5 L752.0,1293.9 L754.4,1294.4 L756.9,1294.9 L759.3,1295.4 L761.8,1295.8 L764.2,1296.3 L766.6,1296.7 L769.1,1297.2 L771.5,1297.6 L774.0,1298.0 L776.4,1298.4 L778.9,1298.9 L781.3,1299.3 L783.8,1299.7 L786.3,1300.0 L788.7,1300.4 L791.2,1300.8 L793.7,1301.2 L796.1,1301.6 L798.6,1301.9 L801.1,1302.3 L803.6,1302.6 L806.1,1303.0 L808.5,1303.3 L811.0,1303.7 L813.5,1304.0 L816.0,1304.3 L818.5,1304.7 L821.0,1305.0 L823.5,1305.3 L826.0,1305.6 L828.5,1305.9 L831.0,1306.2 L833.6,1306.5 L836.1,1306.8 L838.6,1307.1 L841.1,1307.4 L843.6,1307.7 L846.2,1308.0 L848.7,1308.3 L851.3,1308.5 L853.8,1308.8 L856.3,1309.1 L858.9,1309.4 L861.4,1309.6 L864.0,1309.9 L866.6,1310.2 L869.1,1310.4 L871.7,1310.7 L874.2,1311.0 L876.8,1311.2 L879.4,1311.5 L882.0,1311.7 L884.6,1312.0 L887.1,1312.3 L889.7,1312.5 L892.3,1312.8" fill="none" stroke="#808000" stroke-width="1.3" stroke-dasharray="4.5 3.5" stroke-linejoin="round"/>
<path d="M112.6,1040.9 L114.6,1042.4 L116.6,1043.9 L118.6,1045.4 L120.6,1047.0 L122.7,1048.5 L124.7,1050.0 L126.8,1051.6 L128.9,1053.1 L131.0,1054.6 L133.1,1056.1 L135.2,1057.6 L137.3,1059.1 L139.4,1060.6 L141.6,1062.1 L143.7,1063.5 L145.9,1065.0 L148.1,1066.4 L150.3,1067.8 L152.5,1069.1 L154.7,1070.5 L156.9,1071.8 L159.1,1073.1 L161.3,1074.4 L163.6,1075.6 L165.8,1076.8 L168.1,1078.0 L170.4,1079.1 L172.7,1080.2 L174.9,1081.2 L177.2,1082.3 L179.5,1083.2 L181.9,1084.1 L184.2,1085.0 L186.5,1085.9 L188.8,1086.7 L191.2,1087.4 L193.5,1088.1 L195.9,1088.8 L198.2,1089.5 L200.6,1090.1 L202.9,1090.7 L205.3,1091.3 L207.7,1091.8 L210.1,1092.3 L212.5,1092.8 L214.8,1093.3 L217.2,1093.8 L219.6,1094.2 L222.0,1094.6 L224.5,1095.0 L226.9,1095.4 L229.3,1095.8 L231.7,1096.2 L234.1,1096.6 L236.5,1096.9 L239.0,1097.3 L241.4,1097.7 L243.8,1098.0 L246.2,1098.4 L248.7,1098.8 L251.1,1099.1 L253.6,1099.5 L256.0,1099.9 L258.4,1100.3 L260.9,1100.7 L263.3,1101.1 L265.7,1101.6 L268.2,1102.0 L270.6,1102.5 L273.0,1103.0 L275.5,1103.5 L277.9,1104.0 L280.4,1104.5 L282.8,1105.1 L285.2,1105.6 L287.7,1106.2 L290.1,1106.8 L292.6,1107.4 L295.0,1108.0 L297.4,1108.6 L299.9,1109.2 L302.3,1109.8 L304.7,1110.5 L307.2,1111.1 L309.6,1111.8 L312.0,1112.5 L314.5,1113.2 L316.9,1113.9 L319.3,1114.5 L321.8,1115.3 L324.2,1116.0 L326.6,1116.7 L329.1,1117.4 L331.5,1118.2 L333.9,1118.9 L336.4,1119.6 L338.8,1120.4 L341.2,1121.1 L343.7,1121.9 L346.1,1122.7 L348.5,1123.4 L350.9,1124.2 L353.4,1125.0 L355.8,1125.8 L358.2,1126.6 L360.6,1127.3 L363.0,1128.1 L365.5,1128.9 L367.9,1129.7 L370.3,1130.5 L372.7,1131.3 L375.1,1132.1 L377.5,1132.9 L380.0,1133.7 L382.4,1134.5 L384.8,1135.3 L387.2,1136.0 L389.6,1136.8 L392.0,1137.6 L394.4,1138.4 L396.8,1139.2 L399.2,1140.0 L401.6,1140.7 L404.0,1141.5 L406.4,1142.3 L408.8,1143.0 L411.2,1143.8 L413.6,1144.6 L416.0,1145.3 L418.4,1146.1 L420.8,1146.9 L423.1,1147.6 L425.5,1148.4 L427.9,1149.1 L430.3,1149.9 L432.7,1150.7 L435.1,1151.4 L437.4,1152.2 L439.8,1152.9 L442.2,1153.7 L444.5,1154.5 L446.9,1155.3 L449.3,1156.0 L451.6,1156.8 L454.0,1157.6 L456.4,1158.4 L458.7,1159.2 L461.1,1160.0 L463.4,1160.7 L465.8,1161.6 L468.1,1162.4 L470.5,1163.2 L472.8,1164.0 L475.2,1164.8 L477.5,1165.6 L479.8,1166.5 L482.2,1167.3 L484.5,1168.2 L486.8,1169.0 L489.2,1169.9 L491.5,1170.8 L493.8,1171.7 L496.1,1172.6 L498.4,1173.5 L500.7,1174.4 L503.1,1175.3 L505.4,1176.2 L507.7,1177.2 L510.0,1178.1 L512.3,1179.1 L514.6,1180.0 L516.9,1181.0 L519.2,1182.0 L521.5,1183.0 L523.7,1184.0 L526.0,1185.0 L528.3,1186.1 L530.6,1187.1 L532.9,1188.1 L535.1,1189.2 L537.4,1190.2 L539.7,1191.3 L542.0,1192.3 L544.2,1193.4 L546.5,1194.5 L548.8,1195.6 L551.0,1196.7 L553.3,1197.8 L555.6,1198.9 L557.8,1200.0 L560.1,1201.1 L562.4,1202.2 L564.6,1203.3 L566.9,1204.4 L569.1,1205.5 L571.4,1206.6 L573.7,1207.8 L575.9,1208.9 L578.2,1210.0 L580.4,1211.2 L582.7,1212.3 L584.9,1213.4 L587.2,1214.6 L589.4,1215.7 L591.7,1216.9 L593.9,1218.0 L596.2,1219.1 L598.5,1220.3 L600.7,1221.4 L603.0,1222.6 L605.2,1223.7 L607.5,1224.8 L609.7,1226.0 L612.0,1227.1 L614.2,1228.2 L616.5,1229.4 L618.8,1230.5 L621.0,1231.6 L623.3,1232.7 L625.5,1233.8 L627.8,1235.0 L630.1,1236.1 L632.3,1237.2 L634.6,1238.3 L636.9,1239.4 L639.1,1240.5 L641.4,1241.5 L643.7,1242.6 L645.9,1243.7 L648.2,1244.8 L650.5,1245.8 L652.8,1246.9 L655.1,1247.9 L657.3,1249.0 L659.6,1250.0 L661.9,1251.0 L664.2,1252.1 L666.5,1253.1 L668.8,1254.1 L671.1,1255.1 L673.4,1256.1 L675.7,1257.0 L678.0,1258.0 L680.3,1259.0 L682.6,1259.9 L684.9,1260.8 L687.2,1261.8 L689.5,1262.7 L691.9,1263.6 L694.2,1264.5 L696.5,1265.4 L698.9,1266.2 L701.2,1267.1 L703.5,1268.0 L705.9,1268.8 L708.2,1269.6 L710.6,1270.4 L712.9,1271.2 L715.3,1272.0 L717.6,1272.8 L720.0,1273.6 L722.3,1274.3 L724.7,1275.1 L727.1,1275.8 L729.5,1276.6 L731.8,1277.3 L734.2,1278.0 L736.6,1278.7 L739.0,1279.4 L741.4,1280.1 L743.8,1280.7 L746.2,1281.4 L748.6,1282.0 L751.0,1282.7 L753.4,1283.3 L755.8,1284.0 L758.2,1284.6 L760.6,1285.2 L763.0,1285.8 L765.4,1286.4 L767.8,1287.0 L770.3,1287.5 L772.7,1288.1 L775.1,1288.7 L777.5,1289.2 L780.0,1289.8 L782.4,1290.3 L784.9,1290.8 L787.3,1291.4 L789.7,1291.9 L792.2,1292.4 L794.6,1292.9 L797.1,1293.4 L799.5,1293.9 L802.0,1294.3 L804.5,1294.8 L806.9,1295.3 L809.4,1295.8 L811.9,1296.2 L814.3,1296.7 L816.8,1297.1 L819.3,1297.6 L821.8,1298.0 L824.2,1298.4 L826.7,1298.9 L829.2,1299.3 L831.7,1299.7 L834.2,1300.1 L836.7,1300.5 L839.2,1300.9 L841.7,1301.3 L844.2,1301.7 L846.7,1302.1 L849.2,1302.5 L851.7,1302.9 L854.2,1303.2 L856.7,1303.6 L859.2,1304.0 L861.7,1304.4 L864.2,1304.7 L866.7,1305.1 L869.3,1305.4 L871.8,1305.8 L874.3,1306.2 L876.8,1306.5 L879.4,1306.9 L881.9,1307.2 L884.4,1307.5 L887.0,1307.9 L889.5,1308.2 L892.0,1308.6" fill="none" stroke="#ff8000" stroke-width="1.3" stroke-dasharray="4.5 3.5" stroke-linejoin="round"/>
<path d="M112.8,1221.9 L113.8,1224.1 L114.8,1226.3 L115.7,1228.6 L116.6,1230.9 L117.5,1233.2 L118.4,1235.6 L119.2,1238.1 L120.1,1240.5 L121.0,1242.9 L121.8,1245.4 L122.7,1247.8 L123.7,1250.2 L124.7,1252.6 L125.7,1255.0 L126.7,1257.3 L127.9,1259.6 L129.1,1261.9 L130.3,1264.1 L131.7,1266.2 L133.1,1268.2 L134.6,1270.2 L136.2,1272.1 L138.0,1273.9 L139.8,1275.6 L141.7,1277.1 L143.7,1278.6 L145.8,1280.0 L147.9,1281.2 L150.1,1282.2 L152.3,1283.2 L154.5,1283.9 L156.8,1284.6 L159.1,1285.0 L161.5,1285.3 L163.8,1285.4 L166.1,1285.3 L168.4,1285.2 L170.8,1284.8 L173.1,1284.4 L175.5,1283.9 L177.9,1283.3 L180.2,1282.6 L182.6,1281.8 L185.0,1281.0 L187.4,1280.2 L189.8,1279.3 L192.2,1278.3 L194.6,1277.4 L197.0,1276.3 L199.4,1275.3 L201.8,1274.3 L204.2,1273.2 L206.6,1272.1 L209.1,1271.0 L211.5,1269.9 L213.9,1268.9 L216.4,1267.8 L218.8,1266.8 L221.2,1265.7 L223.7,1264.7 L226.1,1263.8 L228.6,1262.8 L231.0,1262.0 L233.5,1261.1 L235.9,1260.4 L238.4,1259.6 L240.8,1259.0 L243.3,1258.4 L245.7,1257.9 L248.2,1257.5 L250.6,1257.2 L253.1,1256.9 L255.5,1256.8 L258.0,1256.7 L260.4,1256.8 L262.8,1257.0 L265.2,1257.2 L267.5,1257.6 L269.8,1258.1 L272.0,1258.8 L274.2,1259.5 L276.4,1260.4 L278.4,1261.5 L280.4,1262.6 L282.3,1263.9 L284.2,1265.3 L286.0,1266.8 L287.7,1268.5 L289.4,1270.2 L291.1,1272.0 L292.7,1273.8 L294.3,1275.8 L295.9,1277.7 L297.5,1279.8 L299.0,1281.8 L300.6,1283.9 L302.2,1286.0 L303.8,1288.1 L305.4,1290.2 L307.0,1292.3 L308.7,1294.3 L310.4,1296.4 L312.1,1298.3 L314.0,1300.3 L315.8,1302.1 L317.7,1304.0 L319.6,1305.7 L321.6,1307.5 L323.6,1309.1 L325.7,1310.7 L327.8,1312.2 L329.9,1313.7 L332.1,1315.1 L334.3,1316.4 L336.5,1317.7 L338.8,1318.8 L341.0,1319.9 L343.3,1320.9 L345.7,1321.9 L348.0,1322.7 L350.4,1323.5 L352.8,1324.1 L355.2,1324.7 L357.6,1325.2 L360.0,1325.6 L362.4,1325.9 L364.9,1326.2 L367.4,1326.5 L369.8,1326.7 L372.3,1326.8 L374.8,1327.0 L377.3,1327.1 L379.8,1327.2 L382.2,1327.4 L384.7,1327.5 L387.2,1327.6 L389.7,1327.7 L392.2,1327.9 L394.7,1328.0 L397.2,1328.1 L399.7,1328.2 L402.2,1328.3 L404.6,1328.4 L407.1,1328.5 L409.6,1328.7 L412.1,1328.8 L414.6,1328.9 L417.1,1329.0 L419.6,1329.1 L422.1,1329.2 L424.6,1329.3 L427.1,1329.4 L429.6,1329.5 L432.1,1329.6 L434.6,1329.7 L437.1,1329.8 L439.6,1329.9 L442.1,1330.0 L444.6,1330.1 L447.1,1330.1 L449.6,1330.2 L452.1,1330.3 L454.6,1330.4 L457.1,1330.5 L459.6,1330.6 L462.1,1330.7 L464.6,1330.7 L467.1,1330.8 L469.6,1330.9 L472.1,1331.0 L474.6,1331.1 L477.1,1331.1 L479.6,1331.2 L482.1,1331.3 L484.6,1331.4 L487.1,1331.4 L489.6,1331.5 L492.1,1331.6 L494.6,1331.6 L497.2,1331.7 L499.7,1331.8 L502.2,1331.8 L504.7,1331.9 L507.2,1332.0 L509.7,1332.0 L512.2,1332.1 L514.7,1332.2 L517.2,1332.2 L519.7,1332.3 L522.3,1332.3 L524.8,1332.4 L527.3,1332.5 L529.8,1332.5 L532.3,1332.6 L534.8,1332.6 L537.3,1332.7 L539.8,1332.7 L542.4,1332.8 L544.9,1332.8 L547.4,1332.9 L549.9,1332.9 L552.4,1333.0 L554.9,1333.0 L557.4,1333.1 L560.0,1333.1 L562.5,1333.2 L565.0,1333.2 L567.5,1333.3 L570.0,1333.3 L572.5,1333.4 L575.0,1333.4 L577.6,1333.4 L580.1,1333.5 L582.6,1333.5 L585.1,1333.6 L587.6,1333.6 L590.1,1333.6 L592.7,1333.7 L595.2,1333.7 L597.7,1333.8 L600.2,1333.8 L602.7,1333.8 L605.2,1333.9 L607.8,1333.9 L610.3,1333.9 L612.8,1334.0 L615.3,1334.0 L617.8,1334.0 L620.4,1334.1 L622.9,1334.1 L625.4,1334.1 L627.9,1334.2 L630.4,1334.2 L632.9,1334.2 L635.5,1334.2 L638.0,1334.3 L640.5,1334.3 L643.0,1334.3 L645.5,1334.4 L648.1,1334.4 L650.6,1334.4 L653.1,1334.4 L655.6,1334.5 L658.1,1334.5 L660.7,1334.5 L663.2,1334.6 L665.7,1334.6 L668.2,1334.6 L670.7,1334.6 L673.2,1334.7 L675.8,1334.7 L678.3,1334.7 L680.8,1334.7 L683.3,1334.7 L685.8,1334.8 L688.4,1334.8 L690.9,1334.8 L693.4,1334.8 L695.9,1334.9 L698.4,1334.9 L700.9,1334.9 L703.5,1334.9 L706.0,1335.0 L708.5,1335.0 L711.0,1335.0 L713.5,1335.0 L716.0,1335.0 L718.6,1335.1 L721.1,1335.1 L723.6,1335.1 L726.1,1335.1 L728.6,1335.2 L731.1,1335.2 L733.7,1335.2 L736.2,1335.2 L738.7,1335.2 L741.2,1335.3 L743.7,1335.3 L746.2,1335.3 L748.7,1335.3 L751.3,1335.4 L753.8,1335.4 L756.3,1335.4 L758.8,1335.4 L761.3,1335.4 L763.8,1335.5 L766.3,1335.5 L768.8,1335.5 L771.4,1335.5 L773.9,1335.6 L776.4,1335.6 L778.9,1335.6 L781.4,1335.6 L783.9,1335.6 L786.4,1335.7 L788.9,1335.7 L791.4,1335.7 L794.0,1335.7 L796.5,1335.8 L799.0,1335.8 L801.5,1335.8 L804.0,1335.9 L806.5,1335.9 L809.0,1335.9 L811.5,1335.9 L814.0,1336.0 L816.5,1336.0 L819.0,1336.0 L821.5,1336.0 L824.0,1336.1 L826.5,1336.1 L829.0,1336.1 L831.5,1336.2 L834.0,1336.2 L836.6,1336.2 L839.1,1336.3 L841.6,1336.3 L844.1,1336.3 L846.6,1336.3 L849.1,1336.4 L851.6,1336.4 L854.1,1336.5 L856.6,1336.5 L859.1,1336.5 L861.6,1336.6 L864.1,1336.6 L866.5,1336.6 L869.0,1336.7 L871.5,1336.7 L874.0,1336.7 L876.5,1336.8 L879.0,1336.8 L881.5,1336.9 L884.0,1336.9 L886.5,1336.9 L889.0,1337.0 L891.5,1337.0" fill="none" stroke="#000" stroke-width="1.3" stroke-linejoin="round"/>
<path d="M113.1,1145.8 L113.8,1147.9 L114.5,1150.1 L115.3,1152.3 L116.1,1154.6 L116.9,1156.9 L117.8,1159.3 L118.6,1161.7 L119.5,1164.2 L120.4,1166.6 L121.4,1169.1 L122.4,1171.6 L123.4,1174.1 L124.4,1176.6 L125.5,1179.1 L126.6,1181.5 L127.8,1184.0 L129.0,1186.4 L130.2,1188.7 L131.5,1191.0 L132.8,1193.3 L134.2,1195.5 L135.6,1197.6 L137.1,1199.7 L138.6,1201.7 L140.2,1203.6 L141.8,1205.4 L143.4,1207.0 L145.2,1208.6 L146.9,1210.1 L148.8,1211.4 L150.7,1212.7 L152.6,1213.7 L154.7,1214.7 L156.7,1215.5 L158.9,1216.1 L161.1,1216.7 L163.3,1217.1 L165.6,1217.5 L167.9,1217.7 L170.2,1217.8 L172.6,1217.9 L175.1,1217.8 L177.5,1217.7 L180.0,1217.4 L182.5,1217.1 L185.0,1216.8 L187.6,1216.4 L190.1,1215.9 L192.7,1215.4 L195.3,1214.8 L197.9,1214.2 L200.5,1213.5 L203.1,1212.8 L205.7,1212.1 L208.3,1211.4 L210.9,1210.7 L213.5,1209.9 L216.0,1209.2 L218.6,1208.5 L221.2,1207.7 L223.7,1207.0 L226.2,1206.3 L228.7,1205.7 L231.2,1205.0 L233.7,1204.4 L236.2,1203.9 L238.6,1203.4 L241.1,1202.9 L243.5,1202.5 L245.9,1202.2 L248.3,1201.9 L250.7,1201.8 L253.0,1201.7 L255.3,1201.7 L257.6,1201.8 L259.9,1202.0 L262.2,1202.3 L264.4,1202.7 L266.7,1203.2 L268.9,1203.8 L271.1,1204.6 L273.2,1205.5 L275.3,1206.5 L277.4,1207.7 L279.5,1208.9 L281.6,1210.2 L283.6,1211.6 L285.6,1213.1 L287.6,1214.6 L289.6,1216.3 L291.5,1217.9 L293.4,1219.6 L295.3,1221.4 L297.2,1223.2 L299.1,1225.0 L300.9,1226.8 L302.7,1228.7 L304.5,1230.5 L306.2,1232.3 L308.0,1234.2 L309.7,1236.0 L311.5,1237.9 L313.2,1239.7 L314.9,1241.5 L316.7,1243.3 L318.4,1245.1 L320.2,1246.8 L321.9,1248.6 L323.7,1250.3 L325.5,1252.0 L327.4,1253.6 L329.2,1255.2 L331.1,1256.8 L333.1,1258.3 L335.0,1259.8 L337.0,1261.2 L339.1,1262.6 L341.2,1264.0 L343.3,1265.2 L345.5,1266.5 L347.7,1267.6 L350.0,1268.7 L352.3,1269.7 L354.6,1270.7 L356.9,1271.5 L359.3,1272.3 L361.7,1273.1 L364.1,1273.7 L366.5,1274.3 L368.9,1274.8 L371.4,1275.3 L373.8,1275.7 L376.3,1276.1 L378.8,1276.4 L381.3,1276.7 L383.8,1277.0 L386.3,1277.2 L388.8,1277.4 L391.3,1277.7 L393.8,1277.9 L396.3,1278.1 L398.8,1278.3 L401.3,1278.5 L403.9,1278.8 L406.4,1279.0 L408.9,1279.2 L411.4,1279.4 L413.9,1279.6 L416.4,1279.9 L418.9,1280.1 L421.4,1280.3 L423.9,1280.5 L426.5,1280.8 L429.0,1281.0 L431.5,1281.2 L434.0,1281.5 L436.5,1281.7 L439.0,1281.9 L441.5,1282.2 L444.0,1282.4 L446.5,1282.6 L449.0,1282.9 L451.5,1283.1 L454.0,1283.4 L456.5,1283.6 L459.0,1283.8 L461.5,1284.1 L464.0,1284.3 L466.6,1284.6 L469.1,1284.8 L471.6,1285.1 L474.1,1285.3 L476.6,1285.6 L479.1,1285.8 L481.6,1286.0 L484.1,1286.3 L486.6,1286.5 L489.1,1286.8 L491.6,1287.0 L494.1,1287.3 L496.6,1287.5 L499.1,1287.8 L501.6,1288.0 L504.1,1288.3 L506.6,1288.6 L509.1,1288.8 L511.6,1289.1 L514.1,1289.3 L516.6,1289.6 L519.1,1289.8 L521.6,1290.1 L524.1,1290.3 L526.6,1290.6 L529.1,1290.8 L531.6,1291.1 L534.1,1291.3 L536.5,1291.6 L539.0,1291.9 L541.5,1292.1 L544.0,1292.4 L546.5,1292.6 L549.0,1292.9 L551.5,1293.1 L554.0,1293.4 L556.5,1293.6 L559.0,1293.9 L561.5,1294.2 L564.0,1294.4 L566.5,1294.7 L569.0,1294.9 L571.5,1295.2 L574.0,1295.4 L576.5,1295.7 L579.0,1295.9 L581.5,1296.2 L584.0,1296.4 L586.5,1296.7 L589.0,1296.9 L591.5,1297.2 L593.9,1297.4 L596.4,1297.7 L598.9,1298.0 L601.4,1298.2 L603.9,1298.5 L606.4,1298.7 L608.9,1298.9 L611.4,1299.2 L613.9,1299.4 L616.4,1299.7 L618.9,1299.9 L621.4,1300.2 L623.9,1300.4 L626.4,1300.7 L628.9,1300.9 L631.4,1301.2 L633.9,1301.4 L636.4,1301.6 L638.8,1301.9 L641.3,1302.1 L643.8,1302.4 L646.3,1302.6 L648.8,1302.8 L651.3,1303.1 L653.8,1303.3 L656.3,1303.5 L658.8,1303.8 L661.3,1304.0 L663.8,1304.2 L666.3,1304.5 L668.8,1304.7 L671.3,1304.9 L673.8,1305.1 L676.3,1305.4 L678.8,1305.6 L681.3,1305.8 L683.8,1306.0 L686.2,1306.3 L688.7,1306.5 L691.2,1306.7 L693.7,1306.9 L696.2,1307.1 L698.7,1307.4 L701.2,1307.6 L703.7,1307.8 L706.2,1308.0 L708.7,1308.2 L711.2,1308.4 L713.7,1308.6 L716.2,1308.8 L718.7,1309.0 L721.2,1309.2 L723.7,1309.4 L726.2,1309.6 L728.7,1309.8 L731.2,1310.0 L733.7,1310.2 L736.2,1310.4 L738.7,1310.6 L741.2,1310.8 L743.7,1311.0 L746.2,1311.1 L748.7,1311.3 L751.2,1311.5 L753.7,1311.7 L756.2,1311.9 L758.7,1312.0 L761.2,1312.2 L763.7,1312.4 L766.2,1312.6 L768.7,1312.7 L771.2,1312.9 L773.7,1313.0 L776.2,1313.2 L778.7,1313.4 L781.2,1313.5 L783.7,1313.7 L786.2,1313.8 L788.7,1314.0 L791.2,1314.1 L793.7,1314.3 L796.2,1314.4 L798.8,1314.6 L801.3,1314.7 L803.8,1314.8 L806.3,1315.0 L808.8,1315.1 L811.3,1315.2 L813.8,1315.4 L816.3,1315.5 L818.8,1315.6 L821.3,1315.7 L823.8,1315.9 L826.3,1316.0 L828.8,1316.1 L831.4,1316.2 L833.9,1316.3 L836.4,1316.4 L838.9,1316.5 L841.4,1316.6 L843.9,1316.7 L846.4,1316.8 L848.9,1316.9 L851.5,1317.0 L854.0,1317.1 L856.5,1317.2 L859.0,1317.3 L861.5,1317.3 L864.0,1317.4 L866.6,1317.5 L869.1,1317.6 L871.6,1317.6 L874.1,1317.7 L876.6,1317.8 L879.1,1317.8 L881.7,1317.9 L884.2,1317.9 L886.7,1318.0 L889.2,1318.0 L891.7,1318.1" fill="none" stroke="#ff0000" stroke-width="1.3" stroke-linejoin="round"/>
<path d="M113.5,1020.3 L113.8,1022.5 L114.1,1024.8 L114.4,1027.1 L114.7,1029.4 L115.0,1031.8 L115.4,1034.1 L115.7,1036.6 L116.1,1039.0 L116.6,1041.5 L117.0,1043.9 L117.5,1046.4 L117.9,1048.9 L118.5,1051.4 L119.0,1053.9 L119.6,1056.5 L120.2,1059.0 L120.8,1061.5 L121.5,1064.0 L122.2,1066.6 L122.9,1069.1 L123.7,1071.6 L124.5,1074.1 L125.4,1076.5 L126.2,1079.0 L127.2,1081.4 L128.1,1083.9 L129.1,1086.3 L130.2,1088.6 L131.3,1091.0 L132.4,1093.3 L133.6,1095.6 L134.8,1097.8 L136.1,1100.0 L137.4,1102.2 L138.8,1104.3 L140.2,1106.4 L141.6,1108.4 L143.2,1110.3 L144.7,1112.2 L146.4,1114.0 L148.1,1115.8 L149.8,1117.4 L151.6,1119.0 L153.5,1120.5 L155.4,1121.9 L157.3,1123.2 L159.4,1124.5 L161.5,1125.6 L163.6,1126.6 L165.9,1127.5 L168.1,1128.4 L170.4,1129.1 L172.8,1129.8 L175.2,1130.4 L177.6,1130.9 L180.1,1131.3 L182.6,1131.6 L185.1,1131.9 L187.7,1132.1 L190.3,1132.3 L192.9,1132.3 L195.5,1132.4 L198.2,1132.3 L200.8,1132.2 L203.5,1132.1 L206.1,1131.9 L208.8,1131.7 L211.5,1131.5 L214.1,1131.2 L216.8,1130.9 L219.4,1130.7 L222.0,1130.4 L224.6,1130.2 L227.2,1130.0 L229.8,1129.8 L232.3,1129.6 L234.8,1129.5 L237.3,1129.5 L239.8,1129.5 L242.2,1129.6 L244.5,1129.8 L246.8,1130.1 L249.1,1130.5 L251.4,1130.9 L253.6,1131.4 L255.7,1132.0 L257.9,1132.7 L260.0,1133.5 L262.1,1134.4 L264.1,1135.3 L266.1,1136.3 L268.1,1137.5 L270.1,1138.7 L272.0,1139.9 L273.9,1141.3 L275.8,1142.7 L277.7,1144.3 L279.6,1145.9 L281.4,1147.5 L283.2,1149.2 L285.0,1151.0 L286.9,1152.8 L288.6,1154.6 L290.4,1156.5 L292.2,1158.4 L294.0,1160.3 L295.8,1162.2 L297.5,1164.1 L299.3,1166.0 L301.1,1168.0 L302.8,1169.9 L304.6,1171.8 L306.4,1173.7 L308.2,1175.6 L310.0,1177.4 L311.8,1179.3 L313.6,1181.1 L315.4,1182.9 L317.2,1184.7 L319.1,1186.5 L321.0,1188.2 L322.9,1189.9 L324.8,1191.6 L326.7,1193.2 L328.7,1194.8 L330.6,1196.3 L332.6,1197.8 L334.7,1199.3 L336.7,1200.7 L338.8,1202.0 L340.9,1203.4 L343.0,1204.6 L345.2,1205.9 L347.3,1207.1 L349.5,1208.3 L351.7,1209.4 L354.0,1210.5 L356.2,1211.5 L358.5,1212.6 L360.8,1213.6 L363.1,1214.5 L365.4,1215.5 L367.7,1216.4 L370.0,1217.2 L372.4,1218.1 L374.8,1218.9 L377.1,1219.7 L379.5,1220.4 L381.9,1221.2 L384.3,1221.9 L386.8,1222.6 L389.2,1223.3 L391.6,1223.9 L394.1,1224.6 L396.5,1225.2 L399.0,1225.8 L401.5,1226.4 L403.9,1226.9 L406.4,1227.5 L408.9,1228.0 L411.4,1228.5 L413.8,1229.0 L416.3,1229.5 L418.8,1230.0 L421.3,1230.5 L423.8,1231.0 L426.2,1231.5 L428.7,1231.9 L431.2,1232.4 L433.7,1232.8 L436.1,1233.3 L438.6,1233.7 L441.1,1234.2 L443.6,1234.6 L446.0,1235.0 L448.5,1235.4 L451.0,1235.9 L453.4,1236.3 L455.9,1236.7 L458.4,1237.1 L460.8,1237.5 L463.3,1237.9 L465.8,1238.3 L468.2,1238.7 L470.7,1239.1 L473.1,1239.5 L475.6,1239.9 L478.1,1240.3 L480.5,1240.7 L483.0,1241.1 L485.4,1241.5 L487.9,1242.0 L490.3,1242.4 L492.8,1242.8 L495.2,1243.2 L497.7,1243.6 L500.1,1244.0 L502.6,1244.5 L505.0,1244.9 L507.5,1245.3 L509.9,1245.8 L512.4,1246.2 L514.8,1246.7 L517.3,1247.2 L519.7,1247.6 L522.2,1248.1 L524.6,1248.6 L527.0,1249.1 L529.5,1249.6 L531.9,1250.1 L534.4,1250.6 L536.8,1251.1 L539.3,1251.7 L541.7,1252.2 L544.1,1252.8 L546.6,1253.3 L549.0,1253.9 L551.4,1254.5 L553.9,1255.1 L556.3,1255.7 L558.8,1256.3 L561.2,1257.0 L563.6,1257.6 L566.1,1258.3 L568.5,1258.9 L570.9,1259.6 L573.4,1260.3 L575.8,1260.9 L578.3,1261.6 L580.7,1262.3 L583.1,1263.0 L585.6,1263.7 L588.0,1264.4 L590.4,1265.1 L592.9,1265.9 L595.3,1266.6 L597.7,1267.3 L600.2,1268.0 L602.6,1268.7 L605.0,1269.5 L607.5,1270.2 L609.9,1270.9 L612.3,1271.6 L614.8,1272.3 L617.2,1273.0 L619.6,1273.8 L622.1,1274.5 L624.5,1275.2 L626.9,1275.9 L629.4,1276.6 L631.8,1277.3 L634.3,1278.0 L636.7,1278.6 L639.1,1279.3 L641.6,1280.0 L644.0,1280.6 L646.4,1281.3 L648.9,1281.9 L651.3,1282.5 L653.7,1283.2 L656.2,1283.8 L658.6,1284.4 L661.1,1285.0 L663.5,1285.6 L665.9,1286.1 L668.4,1286.7 L670.8,1287.3 L673.3,1287.8 L675.7,1288.4 L678.2,1288.9 L680.6,1289.4 L683.0,1290.0 L685.5,1290.5 L687.9,1291.0 L690.4,1291.5 L692.8,1292.0 L695.3,1292.5 L697.7,1293.0 L700.2,1293.4 L702.6,1293.9 L705.1,1294.4 L707.5,1294.8 L710.0,1295.3 L712.4,1295.7 L714.9,1296.1 L717.3,1296.6 L719.8,1297.0 L722.2,1297.4 L724.7,1297.8 L727.1,1298.2 L729.6,1298.6 L732.0,1299.0 L734.5,1299.4 L737.0,1299.8 L739.4,1300.1 L741.9,1300.5 L744.3,1300.9 L746.8,1301.2 L749.3,1301.6 L751.7,1301.9 L754.2,1302.3 L756.7,1302.6 L759.1,1303.0 L761.6,1303.3 L764.1,1303.6 L766.6,1303.9 L769.0,1304.3 L771.5,1304.6 L774.0,1304.9 L776.5,1305.2 L778.9,1305.5 L781.4,1305.8 L783.9,1306.1 L786.4,1306.4 L788.9,1306.7 L791.3,1307.0 L793.8,1307.2 L796.3,1307.5 L798.8,1307.8 L801.3,1308.1 L803.8,1308.3 L806.3,1308.6 L808.8,1308.9 L811.3,1309.1 L813.8,1309.4 L816.3,1309.6 L818.7,1309.9 L821.3,1310.1 L823.8,1310.4 L826.3,1310.6 L828.8,1310.9 L831.3,1311.1 L833.8,1311.4 L836.3,1311.6 L838.8,1311.8 L841.3,1312.1 L843.8,1312.3 L846.3,1312.5 L848.9,1312.8 L851.4,1313.0 L853.9,1313.2 L856.4,1313.5 L859.0,1313.7 L861.5,1313.9 L864.0,1314.1 L866.5,1314.4 L869.1,1314.6 L871.6,1314.8 L874.1,1315.0 L876.7,1315.3 L879.2,1315.5 L881.8,1315.7 L884.3,1315.9 L886.9,1316.2 L889.4,1316.4 L892.0,1316.6" fill="none" stroke="#0000ff" stroke-width="1.3" stroke-linejoin="round"/>
<path d="M113.9,937.0 L114.2,939.3 L114.4,941.7 L114.7,944.0 L115.0,946.4 L115.3,948.8 L115.7,951.2 L116.0,953.6 L116.5,956.0 L116.9,958.4 L117.3,960.8 L117.8,963.3 L118.4,965.7 L118.9,968.2 L119.5,970.6 L120.1,973.0 L120.7,975.5 L121.4,977.9 L122.1,980.4 L122.9,982.8 L123.7,985.3 L124.5,987.7 L125.3,990.1 L126.2,992.6 L127.1,995.0 L128.1,997.4 L129.1,999.8 L130.2,1002.2 L131.2,1004.6 L132.4,1006.9 L133.5,1009.3 L134.7,1011.7 L136.0,1014.0 L137.3,1016.3 L138.6,1018.5 L140.0,1020.8 L141.4,1022.9 L142.8,1025.1 L144.4,1027.2 L145.9,1029.2 L147.5,1031.2 L149.2,1033.1 L150.9,1035.0 L152.6,1036.7 L154.4,1038.4 L156.3,1040.0 L158.2,1041.6 L160.1,1043.0 L162.1,1044.3 L164.2,1045.6 L166.3,1046.8 L168.4,1047.8 L170.6,1048.8 L172.8,1049.8 L175.1,1050.6 L177.4,1051.4 L179.7,1052.2 L182.1,1052.9 L184.4,1053.5 L186.9,1054.1 L189.3,1054.6 L191.7,1055.1 L194.2,1055.6 L196.7,1056.0 L199.2,1056.4 L201.7,1056.8 L204.2,1057.2 L206.8,1057.5 L209.3,1057.9 L211.8,1058.2 L214.4,1058.5 L216.9,1058.9 L219.4,1059.2 L222.0,1059.6 L224.5,1059.9 L227.0,1060.3 L229.5,1060.7 L231.9,1061.1 L234.4,1061.6 L236.8,1062.1 L239.2,1062.6 L241.6,1063.2 L244.0,1063.9 L246.3,1064.5 L248.6,1065.3 L250.9,1066.1 L253.1,1066.9 L255.3,1067.8 L257.5,1068.8 L259.6,1069.8 L261.7,1070.9 L263.8,1072.0 L265.8,1073.2 L267.8,1074.5 L269.8,1075.8 L271.7,1077.2 L273.7,1078.7 L275.5,1080.2 L277.4,1081.8 L279.2,1083.4 L281.0,1085.1 L282.7,1086.9 L284.4,1088.7 L286.2,1090.5 L287.9,1092.4 L289.5,1094.3 L291.2,1096.3 L292.9,1098.3 L294.5,1100.3 L296.1,1102.3 L297.8,1104.3 L299.4,1106.3 L301.0,1108.4 L302.6,1110.4 L304.3,1112.5 L305.9,1114.5 L307.6,1116.5 L309.2,1118.6 L310.9,1120.5 L312.6,1122.5 L314.3,1124.4 L316.1,1126.4 L317.8,1128.2 L319.6,1130.1 L321.4,1131.9 L323.2,1133.7 L325.0,1135.4 L326.9,1137.1 L328.7,1138.8 L330.6,1140.5 L332.5,1142.1 L334.5,1143.7 L336.4,1145.2 L338.4,1146.8 L340.3,1148.3 L342.3,1149.8 L344.4,1151.2 L346.4,1152.6 L348.4,1154.0 L350.5,1155.4 L352.6,1156.7 L354.7,1158.0 L356.8,1159.3 L358.9,1160.6 L361.0,1161.8 L363.2,1163.0 L365.3,1164.2 L367.5,1165.4 L369.7,1166.5 L371.9,1167.6 L374.1,1168.7 L376.4,1169.7 L378.6,1170.8 L380.9,1171.8 L383.1,1172.8 L385.4,1173.8 L387.7,1174.7 L390.0,1175.6 L392.3,1176.5 L394.6,1177.4 L397.0,1178.3 L399.3,1179.1 L401.7,1179.9 L404.0,1180.7 L406.4,1181.5 L408.8,1182.2 L411.2,1183.0 L413.6,1183.7 L416.0,1184.4 L418.4,1185.1 L420.8,1185.8 L423.2,1186.4 L425.7,1187.1 L428.1,1187.7 L430.5,1188.4 L433.0,1189.0 L435.4,1189.6 L437.9,1190.2 L440.4,1190.7 L442.8,1191.3 L445.3,1191.9 L447.8,1192.4 L450.2,1193.0 L452.7,1193.5 L455.2,1194.1 L457.7,1194.6 L460.2,1195.2 L462.7,1195.7 L465.2,1196.2 L467.6,1196.7 L470.1,1197.3 L472.6,1197.8 L475.1,1198.3 L477.6,1198.9 L480.1,1199.4 L482.6,1199.9 L485.1,1200.5 L487.5,1201.0 L490.0,1201.5 L492.5,1202.1 L495.0,1202.6 L497.5,1203.2 L499.9,1203.8 L502.4,1204.3 L504.8,1204.9 L507.3,1205.5 L509.7,1206.1 L512.2,1206.7 L514.6,1207.4 L517.1,1208.0 L519.5,1208.7 L521.9,1209.3 L524.3,1210.0 L526.7,1210.7 L529.1,1211.4 L531.5,1212.2 L533.9,1212.9 L536.3,1213.7 L538.7,1214.4 L541.0,1215.2 L543.4,1216.0 L545.7,1216.9 L548.1,1217.7 L550.4,1218.5 L552.7,1219.4 L555.0,1220.3 L557.4,1221.2 L559.7,1222.0 L562.0,1223.0 L564.3,1223.9 L566.6,1224.8 L568.9,1225.7 L571.2,1226.7 L573.5,1227.6 L575.8,1228.6 L578.1,1229.6 L580.3,1230.6 L582.6,1231.5 L584.9,1232.5 L587.2,1233.5 L589.5,1234.5 L591.7,1235.6 L594.0,1236.6 L596.3,1237.6 L598.6,1238.6 L600.9,1239.6 L603.1,1240.7 L605.4,1241.7 L607.7,1242.7 L610.0,1243.8 L612.2,1244.8 L614.5,1245.8 L616.8,1246.9 L619.1,1247.9 L621.4,1249.0 L623.7,1250.0 L626.0,1251.0 L628.3,1252.1 L630.6,1253.1 L632.9,1254.1 L635.2,1255.1 L637.5,1256.2 L639.9,1257.2 L642.2,1258.2 L644.5,1259.2 L646.9,1260.2 L649.2,1261.2 L651.5,1262.2 L653.9,1263.1 L656.2,1264.1 L658.6,1265.0 L660.9,1266.0 L663.3,1266.9 L665.7,1267.8 L668.0,1268.8 L670.4,1269.6 L672.8,1270.5 L675.2,1271.4 L677.5,1272.3 L679.9,1273.1 L682.3,1273.9 L684.7,1274.7 L687.1,1275.5 L689.5,1276.3 L691.9,1277.1 L694.3,1277.8 L696.7,1278.5 L699.1,1279.2 L701.5,1279.9 L703.9,1280.6 L706.3,1281.2 L708.7,1281.8 L711.2,1282.4 L713.6,1283.0 L716.0,1283.6 L718.4,1284.2 L720.9,1284.7 L723.3,1285.3 L725.7,1285.8 L728.2,1286.3 L730.6,1286.8 L733.1,1287.3 L735.5,1287.8 L737.9,1288.2 L740.4,1288.7 L742.8,1289.1 L745.3,1289.6 L747.7,1290.0 L750.2,1290.4 L752.7,1290.9 L755.1,1291.3 L757.6,1291.7 L760.0,1292.1 L762.5,1292.5 L765.0,1292.9 L767.4,1293.3 L769.9,1293.7 L772.4,1294.1 L774.8,1294.5 L777.3,1294.9 L779.8,1295.3 L782.3,1295.7 L784.7,1296.1 L787.2,1296.5 L789.7,1296.9 L792.2,1297.2 L794.7,1297.6 L797.1,1298.0 L799.6,1298.4 L802.1,1298.8 L804.6,1299.2 L807.1,1299.5 L809.6,1299.9 L812.0,1300.3 L814.5,1300.7 L817.0,1301.1 L819.5,1301.5 L822.0,1301.8 L824.5,1302.2 L827.0,1302.6 L829.5,1303.0 L832.0,1303.3 L834.4,1303.7 L836.9,1304.1 L839.4,1304.5 L841.9,1304.8 L844.4,1305.2 L846.9,1305.6 L849.4,1306.0 L851.9,1306.3 L854.4,1306.7 L856.9,1307.1 L859.3,1307.5 L861.8,1307.8 L864.3,1308.2 L866.8,1308.6 L869.3,1309.0 L871.8,1309.3 L874.3,1309.7 L876.8,1310.1 L879.2,1310.5 L881.7,1310.8 L884.2,1311.2 L886.7,1311.6 L889.2,1312.0 L891.7,1312.3" fill="none" stroke="#808000" stroke-width="1.3" stroke-linejoin="round"/>
<path d="M112.9,845.8 L113.7,848.1 L114.5,850.5 L115.3,852.8 L116.0,855.2 L116.8,857.6 L117.5,859.9 L118.2,862.3 L118.9,864.7 L119.6,867.1 L120.2,869.5 L120.9,871.9 L121.6,874.3 L122.2,876.7 L122.9,879.1 L123.5,881.5 L124.2,883.9 L124.8,886.4 L125.5,888.8 L126.2,891.2 L126.9,893.6 L127.6,896.0 L128.3,898.4 L129.1,900.8 L129.8,903.2 L130.6,905.7 L131.4,908.1 L132.3,910.5 L133.1,912.9 L134.0,915.2 L135.0,917.6 L135.9,920.0 L136.9,922.3 L138.0,924.7 L139.1,927.0 L140.2,929.2 L141.4,931.5 L142.6,933.7 L143.9,935.9 L145.3,938.0 L146.6,940.1 L148.1,942.1 L149.6,944.1 L151.2,946.1 L152.8,947.9 L154.5,949.8 L156.3,951.5 L158.1,953.2 L160.0,954.8 L162.0,956.3 L164.0,957.8 L166.1,959.2 L168.2,960.6 L170.4,961.9 L172.6,963.1 L174.8,964.2 L177.1,965.3 L179.5,966.3 L181.9,967.3 L184.3,968.1 L186.7,968.9 L189.2,969.7 L191.6,970.3 L194.1,970.9 L196.7,971.4 L199.2,971.9 L201.8,972.3 L204.3,972.7 L206.9,973.1 L209.4,973.4 L212.0,973.6 L214.6,973.9 L217.1,974.2 L219.7,974.4 L222.2,974.7 L224.8,974.9 L227.3,975.2 L229.8,975.5 L232.2,975.8 L234.7,976.2 L237.1,976.6 L239.5,977.0 L241.8,977.5 L244.1,978.1 L246.4,978.7 L248.6,979.4 L250.8,980.2 L253.0,981.0 L255.1,982.0 L257.1,983.0 L259.1,984.1 L261.1,985.3 L263.0,986.6 L264.9,987.9 L266.8,989.3 L268.6,990.8 L270.4,992.3 L272.1,993.9 L273.8,995.6 L275.5,997.3 L277.2,999.0 L278.9,1000.8 L280.5,1002.6 L282.1,1004.5 L283.7,1006.4 L285.2,1008.4 L286.8,1010.4 L288.3,1012.4 L289.9,1014.4 L291.4,1016.5 L292.9,1018.6 L294.4,1020.7 L295.9,1022.8 L297.4,1024.9 L298.9,1027.0 L300.4,1029.2 L301.9,1031.3 L303.4,1033.5 L304.9,1035.6 L306.5,1037.7 L308.0,1039.8 L309.5,1042.0 L311.1,1044.0 L312.7,1046.1 L314.3,1048.2 L315.9,1050.2 L317.5,1052.2 L319.1,1054.2 L320.8,1056.1 L322.5,1058.1 L324.2,1060.0 L325.9,1061.8 L327.6,1063.7 L329.4,1065.5 L331.1,1067.3 L332.9,1069.1 L334.7,1070.9 L336.5,1072.6 L338.3,1074.3 L340.2,1076.0 L342.1,1077.7 L343.9,1079.3 L345.8,1081.0 L347.8,1082.6 L349.7,1084.1 L351.6,1085.7 L353.6,1087.2 L355.6,1088.7 L357.6,1090.2 L359.6,1091.6 L361.6,1093.0 L363.6,1094.4 L365.7,1095.8 L367.7,1097.2 L369.8,1098.5 L371.9,1099.8 L374.0,1101.1 L376.1,1102.3 L378.3,1103.6 L380.4,1104.8 L382.6,1106.0 L384.8,1107.1 L387.0,1108.3 L389.2,1109.4 L391.4,1110.5 L393.6,1111.6 L395.9,1112.6 L398.1,1113.6 L400.4,1114.7 L402.7,1115.6 L405.0,1116.6 L407.3,1117.6 L409.6,1118.5 L411.9,1119.4 L414.2,1120.3 L416.6,1121.2 L418.9,1122.1 L421.3,1122.9 L423.6,1123.8 L426.0,1124.6 L428.4,1125.4 L430.8,1126.2 L433.1,1127.0 L435.5,1127.8 L437.9,1128.6 L440.3,1129.4 L442.7,1130.2 L445.2,1130.9 L447.6,1131.7 L450.0,1132.4 L452.4,1133.2 L454.8,1133.9 L457.3,1134.7 L459.7,1135.4 L462.1,1136.2 L464.5,1136.9 L467.0,1137.6 L469.4,1138.4 L471.8,1139.1 L474.3,1139.9 L476.7,1140.6 L479.1,1141.4 L481.5,1142.1 L483.9,1142.9 L486.4,1143.6 L488.8,1144.4 L491.2,1145.2 L493.6,1146.0 L496.0,1146.8 L498.4,1147.6 L500.8,1148.4 L503.1,1149.3 L505.5,1150.1 L507.9,1151.0 L510.2,1151.9 L512.6,1152.8 L514.9,1153.7 L517.3,1154.6 L519.6,1155.5 L521.9,1156.5 L524.2,1157.4 L526.5,1158.4 L528.8,1159.4 L531.1,1160.5 L533.4,1161.5 L535.6,1162.6 L537.9,1163.7 L540.1,1164.8 L542.4,1165.9 L544.6,1167.1 L546.8,1168.2 L549.0,1169.4 L551.2,1170.6 L553.4,1171.8 L555.5,1173.0 L557.7,1174.3 L559.9,1175.5 L562.0,1176.8 L564.2,1178.0 L566.3,1179.3 L568.5,1180.6 L570.6,1181.9 L572.8,1183.2 L574.9,1184.5 L577.0,1185.8 L579.2,1187.2 L581.3,1188.5 L583.4,1189.8 L585.5,1191.2 L587.6,1192.5 L589.7,1193.9 L591.9,1195.2 L594.0,1196.6 L596.1,1197.9 L598.2,1199.3 L600.3,1200.6 L602.4,1202.0 L604.5,1203.3 L606.7,1204.6 L608.8,1206.0 L610.9,1207.3 L613.0,1208.6 L615.2,1210.0 L617.3,1211.3 L619.4,1212.6 L621.6,1213.9 L623.7,1215.2 L625.9,1216.5 L628.0,1217.7 L630.2,1219.0 L632.3,1220.3 L634.5,1221.5 L636.7,1222.7 L638.9,1223.9 L641.1,1225.2 L643.3,1226.4 L645.5,1227.5 L647.7,1228.7 L649.9,1229.9 L652.1,1231.0 L654.3,1232.2 L656.6,1233.3 L658.8,1234.4 L661.0,1235.5 L663.3,1236.6 L665.5,1237.7 L667.8,1238.8 L670.0,1239.9 L672.3,1240.9 L674.6,1242.0 L676.9,1243.0 L679.1,1244.1 L681.4,1245.1 L683.7,1246.1 L686.0,1247.1 L688.3,1248.1 L690.6,1249.1 L692.9,1250.0 L695.2,1251.0 L697.5,1251.9 L699.9,1252.9 L702.2,1253.8 L704.5,1254.7 L706.9,1255.7 L709.2,1256.6 L711.5,1257.5 L713.9,1258.3 L716.2,1259.2 L718.6,1260.1 L720.9,1260.9 L723.3,1261.8 L725.7,1262.6 L728.0,1263.5 L730.4,1264.3 L732.8,1265.1 L735.2,1265.9 L737.5,1266.7 L739.9,1267.5 L742.3,1268.3 L744.7,1269.0 L747.1,1269.8 L749.5,1270.5 L751.9,1271.3 L754.3,1272.0 L756.7,1272.7 L759.1,1273.5 L761.5,1274.2 L763.9,1274.9 L766.3,1275.6 L768.8,1276.2 L771.2,1276.9 L773.6,1277.6 L776.0,1278.3 L778.5,1278.9 L780.9,1279.6 L783.3,1280.2 L785.8,1280.8 L788.2,1281.5 L790.6,1282.1 L793.1,1282.7 L795.5,1283.3 L798.0,1283.9 L800.4,1284.5 L802.9,1285.0 L805.3,1285.6 L807.8,1286.2 L810.2,1286.7 L812.7,1287.3 L815.1,1287.8 L817.6,1288.4 L820.0,1288.9 L822.5,1289.4 L825.0,1289.9 L827.4,1290.4 L829.9,1290.9 L832.3,1291.4 L834.8,1291.9 L837.3,1292.4 L839.7,1292.9 L842.2,1293.3 L844.7,1293.8 L847.1,1294.2 L849.6,1294.7 L852.1,1295.1 L854.6,1295.6 L857.0,1296.0 L859.5,1296.4 L862.0,1296.8 L864.4,1297.3 L866.9,1297.7 L869.4,1298.1 L871.8,1298.5 L874.3,1298.8 L876.8,1299.2 L879.3,1299.6 L881.7,1300.0 L884.2,1300.3 L886.7,1300.7 L889.1,1301.1 L891.6,1301.4" fill="none" stroke="#ff8000" stroke-width="1.3" stroke-linejoin="round"/>
<rect x="299.5" y="781.5" width="273.5" height="206" fill="#fff" stroke="#000" stroke-width="1.3"/>
<line x1="303" y1="801.8" x2="365.4" y2="801.8" stroke="#ff0000" stroke-width="1.3" stroke-dasharray="4.5 3.5"/>
<text x="372.6" y="810.5" font-size="27.45" text-anchor="start" font-weight="normal" >0.1 mM FeCl<tspan font-size="16" dy="12">3</tspan><tspan dy="-12"> *</tspan></text>
<line x1="303" y1="844.4" x2="365.4" y2="844.4" stroke="#0000ff" stroke-width="1.3" stroke-dasharray="4.5 3.5"/>
<text x="372.6" y="853.1" font-size="27.45" text-anchor="start" font-weight="normal" >0.2 mM FeCl<tspan font-size="16" dy="12">3</tspan><tspan dy="-12"> *</tspan></text>
<line x1="303" y1="886.6" x2="365.4" y2="886.6" stroke="#808000" stroke-width="1.3" stroke-dasharray="4.5 3.5"/>
<text x="372.6" y="895.3" font-size="27.45" text-anchor="start" font-weight="normal" >0.3 mM FeCl<tspan font-size="16" dy="12">3</tspan><tspan dy="-12"> *</tspan></text>
<line x1="303" y1="929.6" x2="365.4" y2="929.6" stroke="#ff8000" stroke-width="1.3" stroke-dasharray="4.5 3.5"/>
<text x="372.6" y="938.3" font-size="27.45" text-anchor="start" font-weight="normal" >0.4 mM FeCl<tspan font-size="16" dy="12">3</tspan><tspan dy="-12"> *</tspan></text>
<text x="378.6" y="981.0" font-size="27.45" text-anchor="start" font-weight="normal" >* + 20 mM NaCl</text>
<rect x="598.5" y="784.5" width="346" height="250" fill="#fff" stroke="#000" stroke-width="1.3"/>
<line x1="605" y1="806.1" x2="667" y2="806.1" stroke="#000" stroke-width="1.3"/>
<text x="674.0" y="814.8" font-size="27.45" text-anchor="start" font-weight="normal" >BSA *</text>
<line x1="605" y1="848.5" x2="667" y2="848.5" stroke="#ff0000" stroke-width="1.3"/>
<text x="674.0" y="857.2" font-size="27.45" text-anchor="start" font-weight="normal" >BSA * + 0.1 mM FeCl<tspan font-size="16" dy="12">3</tspan></text>
<line x1="605" y1="891.1" x2="667" y2="891.1" stroke="#0000ff" stroke-width="1.3"/>
<text x="674.0" y="899.8" font-size="27.45" text-anchor="start" font-weight="normal" >BSA * + 0.2 mM FeCl<tspan font-size="16" dy="12">3</tspan></text>
<line x1="605" y1="934.0" x2="667" y2="934.0" stroke="#808000" stroke-width="1.3"/>
<text x="674.0" y="942.7" font-size="27.45" text-anchor="start" font-weight="normal" >BSA * + 0.3 mM FeCl<tspan font-size="16" dy="12">3</tspan></text>
<line x1="605" y1="976.3" x2="667" y2="976.3" stroke="#ff8000" stroke-width="1.3"/>
<text x="674.0" y="985.0" font-size="27.45" text-anchor="start" font-weight="normal" >BSA * + 0.4 mM FeCl<tspan font-size="16" dy="12">3</tspan></text>
<text x="680.7" y="1028.3" font-size="27.45" text-anchor="start" font-weight="normal" >* + 20 mM NaCl</text>
<line x1="111.5" y1="1581.0" x2="111.5" y2="2161.8" stroke="#000" stroke-width="2.4"/>
<line x1="105.5" y1="2160.8" x2="890.5" y2="2160.8" stroke="#000" stroke-width="2.4"/>
<line x1="100.0" y1="2128.6" x2="111.5" y2="2128.6" stroke="#000" stroke-width="2.4"/>
<text x="93.0" y="2135.1" font-size="23.0" text-anchor="end" font-weight="normal" >0.0</text>
<line x1="100.0" y1="2064.2" x2="111.5" y2="2064.2" stroke="#000" stroke-width="2.4"/>
<text x="93.0" y="2070.7" font-size="23.0" text-anchor="end" font-weight="normal" >0.1</text>
<line x1="100.0" y1="1999.8" x2="111.5" y2="1999.8" stroke="#000" stroke-width="2.4"/>
<text x="93.0" y="2006.3" font-size="23.0" text-anchor="end" font-weight="normal" >0.2</text>
<line x1="100.0" y1="1935.4" x2="111.5" y2="1935.4" stroke="#000" stroke-width="2.4"/>
<text x="93.0" y="1941.9" font-size="23.0" text-anchor="end" font-weight="normal" >0.3</text>
<line x1="100.0" y1="1871.0" x2="111.5" y2="1871.0" stroke="#000" stroke-width="2.4"/>
<text x="93.0" y="1877.5" font-size="23.0" text-anchor="end" font-weight="normal" >0.4</text>
<line x1="100.0" y1="1806.5" x2="111.5" y2="1806.5" stroke="#000" stroke-width="2.4"/>
<text x="93.0" y="1813.0" font-size="23.0" text-anchor="end" font-weight="normal" >0.5</text>
<line x1="100.0" y1="1742.1" x2="111.5" y2="1742.1" stroke="#000" stroke-width="2.4"/>
<text x="93.0" y="1748.6" font-size="23.0" text-anchor="end" font-weight="normal" >0.6</text>
<line x1="100.0" y1="1677.7" x2="111.5" y2="1677.7" stroke="#000" stroke-width="2.4"/>
<text x="93.0" y="1684.2" font-size="23.0" text-anchor="end" font-weight="normal" >0.7</text>
<line x1="100.0" y1="1613.3" x2="111.5" y2="1613.3" stroke="#000" stroke-width="2.4"/>
<text x="93.0" y="1619.8" font-size="23.0" text-anchor="end" font-weight="normal" >0.8</text>
<line x1="105.5" y1="2096.4" x2="111.5" y2="2096.4" stroke="#000" stroke-width="2.4"/>
<line x1="105.5" y1="2032.0" x2="111.5" y2="2032.0" stroke="#000" stroke-width="2.4"/>
<line x1="105.5" y1="1967.6" x2="111.5" y2="1967.6" stroke="#000" stroke-width="2.4"/>
<line x1="105.5" y1="1903.2" x2="111.5" y2="1903.2" stroke="#000" stroke-width="2.4"/>
<line x1="105.5" y1="1838.8" x2="111.5" y2="1838.8" stroke="#000" stroke-width="2.4"/>
<line x1="105.5" y1="1774.3" x2="111.5" y2="1774.3" stroke="#000" stroke-width="2.4"/>
<line x1="105.5" y1="1709.9" x2="111.5" y2="1709.9" stroke="#000" stroke-width="2.4"/>
<line x1="105.5" y1="1645.5" x2="111.5" y2="1645.5" stroke="#000" stroke-width="2.4"/>
<line x1="105.5" y1="1581.1" x2="111.5" y2="1581.1" stroke="#000" stroke-width="2.4"/>
<line x1="150.5" y1="2160.8" x2="150.5" y2="2172.8" stroke="#000" stroke-width="2.4"/>
<text x="150.5" y="2197.5" font-size="23.0" text-anchor="middle" font-weight="normal" >250</text>
<line x1="344.9" y1="2160.8" x2="344.9" y2="2172.8" stroke="#000" stroke-width="2.4"/>
<text x="344.9" y="2197.5" font-size="23.0" text-anchor="middle" font-weight="normal" >300</text>
<line x1="539.3" y1="2160.8" x2="539.3" y2="2172.8" stroke="#000" stroke-width="2.4"/>
<text x="539.3" y="2197.5" font-size="23.0" text-anchor="middle" font-weight="normal" >350</text>
<line x1="733.7" y1="2160.8" x2="733.7" y2="2172.8" stroke="#000" stroke-width="2.4"/>
<text x="733.7" y="2197.5" font-size="23.0" text-anchor="middle" font-weight="normal" >400</text>
<line x1="247.7" y1="2160.8" x2="247.7" y2="2167.3" stroke="#000" stroke-width="2.4"/>
<line x1="442.1" y1="2160.8" x2="442.1" y2="2167.3" stroke="#000" stroke-width="2.4"/>
<line x1="636.5" y1="2160.8" x2="636.5" y2="2167.3" stroke="#000" stroke-width="2.4"/>
<line x1="830.9" y1="2160.8" x2="830.9" y2="2167.3" stroke="#000" stroke-width="2.4"/>
<text x="500.8" y="2240.7" font-size="27.8" text-anchor="middle" font-weight="normal" >λ, nm</text>
<text transform="translate(501.9,2304.8) scale(0.86,1)" font-size="43" text-anchor="middle" font-weight="bold">c</text>
<text transform="translate(20.8,1873) rotate(-90)" font-size="27.6" text-anchor="middle">Absorption difference (a.u.)</text>
<path d="M111.2,1832.9 L111.5,1835.4 L111.8,1838.0 L112.1,1840.5 L112.4,1843.0 L112.7,1845.6 L113.1,1848.1 L113.4,1850.6 L113.8,1853.1 L114.2,1855.5 L114.5,1858.0 L114.9,1860.5 L115.3,1863.0 L115.7,1865.4 L116.1,1867.9 L116.6,1870.4 L117.0,1872.8 L117.4,1875.3 L117.9,1877.7 L118.3,1880.2 L118.7,1882.6 L119.2,1885.1 L119.6,1887.5 L120.1,1890.0 L120.5,1892.4 L121.0,1894.9 L121.4,1897.3 L121.9,1899.8 L122.3,1902.2 L122.8,1904.7 L123.2,1907.1 L123.7,1909.6 L124.1,1912.1 L124.6,1914.5 L125.0,1917.0 L125.4,1919.5 L125.9,1922.0 L126.3,1924.4 L126.7,1926.9 L127.1,1929.4 L127.5,1931.9 L127.9,1934.5 L128.4,1937.0 L128.8,1939.5 L129.2,1942.0 L129.7,1944.5 L130.2,1947.0 L130.7,1949.5 L131.2,1952.0 L131.8,1954.4 L132.4,1956.9 L133.0,1959.4 L133.7,1961.8 L134.4,1964.2 L135.2,1966.6 L136.0,1969.0 L136.9,1971.4 L137.9,1973.7 L138.9,1976.0 L140.0,1978.3 L141.2,1980.6 L142.4,1982.9 L143.8,1985.1 L145.2,1987.2 L146.7,1989.2 L148.2,1991.1 L149.9,1992.9 L151.7,1994.4 L153.6,1995.7 L155.6,1996.7 L157.7,1997.3 L159.9,1997.7 L162.1,1997.9 L164.4,1997.7 L166.8,1997.3 L169.2,1996.8 L171.5,1996.0 L173.9,1995.0 L176.2,1993.8 L178.5,1992.5 L180.7,1991.1 L182.8,1989.6 L184.9,1988.0 L186.9,1986.3 L188.9,1984.6 L190.8,1982.8 L192.7,1981.0 L194.6,1979.3 L196.4,1977.6 L198.2,1975.9 L199.9,1974.2 L201.7,1972.6 L203.4,1970.9 L205.1,1969.3 L206.8,1967.7 L208.5,1966.1 L210.2,1964.4 L211.9,1962.7 L213.6,1960.9 L215.3,1959.1 L217.0,1957.3 L218.7,1955.3 L220.5,1953.3 L222.2,1951.2 L224.0,1949.0 L225.8,1946.8 L227.6,1944.6 L229.5,1942.4 L231.4,1940.2 L233.2,1938.1 L235.1,1936.0 L237.0,1934.0 L239.0,1932.1 L240.9,1930.4 L242.9,1928.8 L244.8,1927.3 L246.8,1926.1 L248.8,1925.0 L250.8,1924.2 L252.8,1923.6 L254.9,1923.4 L256.9,1923.4 L258.9,1923.7 L261.0,1924.3 L263.0,1925.3 L265.1,1926.5 L267.1,1927.9 L269.0,1929.5 L270.9,1931.2 L272.7,1933.1 L274.5,1935.1 L276.1,1937.1 L277.7,1939.1 L279.1,1941.2 L280.5,1943.3 L281.8,1945.4 L283.0,1947.5 L284.2,1949.7 L285.2,1951.9 L286.3,1954.1 L287.2,1956.3 L288.2,1958.6 L289.1,1960.8 L289.9,1963.1 L290.8,1965.4 L291.6,1967.7 L292.4,1970.1 L293.2,1972.4 L294.0,1974.8 L294.8,1977.1 L295.6,1979.5 L296.4,1981.9 L297.2,1984.3 L297.9,1986.7 L298.7,1989.1 L299.4,1991.5 L300.2,1994.0 L300.9,1996.4 L301.6,1998.9 L302.3,2001.3 L303.0,2003.7 L303.7,2006.2 L304.4,2008.6 L305.1,2011.1 L305.8,2013.5 L306.5,2016.0 L307.2,2018.4 L307.9,2020.9 L308.6,2023.3 L309.4,2025.8 L310.1,2028.2 L310.9,2030.6 L311.7,2033.0 L312.5,2035.4 L313.4,2037.8 L314.3,2040.2 L315.2,2042.6 L316.2,2045.0 L317.2,2047.3 L318.2,2049.7 L319.3,2052.0 L320.4,2054.3 L321.5,2056.6 L322.8,2058.9 L324.0,2061.1 L325.3,2063.3 L326.6,2065.5 L328.0,2067.6 L329.4,2069.7 L330.9,2071.8 L332.4,2073.8 L333.9,2075.8 L335.5,2077.7 L337.1,2079.6 L338.8,2081.5 L340.5,2083.2 L342.3,2084.9 L344.1,2086.6 L346.0,2088.2 L347.9,2089.7 L349.8,2091.1 L351.8,2092.5 L353.8,2093.8 L355.9,2095.0 L358.0,2096.1 L360.2,2097.2 L362.4,2098.2 L364.6,2099.1 L366.9,2100.0 L369.2,2100.8 L371.5,2101.5 L373.9,2102.2 L376.3,2102.8 L378.7,2103.4 L381.1,2103.9 L383.6,2104.5 L386.1,2104.9 L388.5,2105.4 L391.0,2105.8 L393.5,2106.2 L396.1,2106.6 L398.6,2106.9 L401.1,2107.3 L403.6,2107.6 L406.1,2107.9 L408.7,2108.3 L411.2,2108.6 L413.7,2108.9 L416.2,2109.2 L418.7,2109.5 L421.3,2109.8 L423.8,2110.1 L426.3,2110.4 L428.8,2110.7 L431.3,2111.0 L433.9,2111.3 L436.4,2111.5 L438.9,2111.8 L441.4,2112.0 L443.9,2112.3 L446.4,2112.6 L449.0,2112.8 L451.5,2113.0 L454.0,2113.3 L456.5,2113.5 L459.0,2113.7 L461.5,2114.0 L464.1,2114.2 L466.6,2114.4 L469.1,2114.6 L471.6,2114.8 L474.1,2115.0 L476.6,2115.2 L479.1,2115.4 L481.6,2115.6 L484.2,2115.8 L486.7,2116.0 L489.2,2116.1 L491.7,2116.3 L494.2,2116.5 L496.7,2116.7 L499.2,2116.8 L501.7,2117.0 L504.2,2117.1 L506.8,2117.3 L509.3,2117.5 L511.8,2117.6 L514.3,2117.8 L516.8,2117.9 L519.3,2118.0 L521.8,2118.2 L524.3,2118.3 L526.8,2118.4 L529.3,2118.6 L531.8,2118.7 L534.4,2118.8 L536.9,2118.9 L539.4,2119.1 L541.9,2119.2 L544.4,2119.3 L546.9,2119.4 L549.4,2119.5 L551.9,2119.6 L554.4,2119.7 L556.9,2119.8 L559.4,2119.9 L561.9,2120.0 L564.4,2120.1 L566.9,2120.2 L569.5,2120.3 L572.0,2120.4 L574.5,2120.5 L577.0,2120.6 L579.5,2120.7 L582.0,2120.8 L584.5,2120.9 L587.0,2121.0 L589.5,2121.1 L592.0,2121.2 L594.5,2121.2 L597.0,2121.3 L599.5,2121.4 L602.0,2121.5 L604.5,2121.6 L607.0,2121.7 L609.5,2121.7 L612.0,2121.8 L614.5,2121.9 L617.0,2122.0 L619.6,2122.1 L622.1,2122.1 L624.6,2122.2 L627.1,2122.3 L629.6,2122.4 L632.1,2122.4 L634.6,2122.5 L637.1,2122.6 L639.6,2122.7 L642.1,2122.8 L644.6,2122.8 L647.1,2122.9 L649.6,2123.0 L652.1,2123.1 L654.6,2123.2 L657.1,2123.3 L659.6,2123.3 L662.1,2123.4 L664.6,2123.5 L667.1,2123.6 L669.6,2123.7 L672.1,2123.8 L674.6,2123.9 L677.1,2123.9 L679.7,2124.0 L682.2,2124.1 L684.7,2124.2 L687.2,2124.3 L689.7,2124.4 L692.2,2124.5 L694.7,2124.6 L697.2,2124.7 L699.7,2124.7 L702.2,2124.8 L704.7,2124.9 L707.2,2125.0 L709.7,2125.1 L712.2,2125.2 L714.7,2125.3 L717.2,2125.4 L719.7,2125.5 L722.2,2125.5 L724.7,2125.6 L727.3,2125.7 L729.8,2125.8 L732.3,2125.9 L734.8,2126.0 L737.3,2126.1 L739.8,2126.1 L742.3,2126.2 L744.8,2126.3 L747.3,2126.4 L749.8,2126.5 L752.3,2126.6 L754.8,2126.6 L757.3,2126.7 L759.8,2126.8 L762.4,2126.9 L764.9,2126.9 L767.4,2127.0 L769.9,2127.1 L772.4,2127.2 L774.9,2127.2 L777.4,2127.3 L779.9,2127.4 L782.4,2127.4 L784.9,2127.5 L787.4,2127.6 L790.0,2127.6 L792.5,2127.7 L795.0,2127.7 L797.5,2127.8 L800.0,2127.9 L802.5,2127.9 L805.0,2128.0 L807.5,2128.0 L810.0,2128.1 L812.6,2128.1 L815.1,2128.2 L817.6,2128.2 L820.1,2128.2 L822.6,2128.3 L825.1,2128.3 L827.6,2128.4 L830.2,2128.4 L832.7,2128.4 L835.2,2128.5 L837.7,2128.5 L840.2,2128.5 L842.7,2128.5 L845.3,2128.5 L847.8,2128.6 L850.3,2128.6 L852.8,2128.6 L855.3,2128.6 L857.8,2128.6 L860.4,2128.6 L862.9,2128.6 L865.4,2128.6 L867.9,2128.6 L870.4,2128.6 L873.0,2128.6 L875.5,2128.6 L878.0,2128.6 L880.5,2128.5 L883.0,2128.5 L885.6,2128.5 L888.1,2128.5 L890.6,2128.4" fill="none" stroke="#000" stroke-width="1.3" stroke-dasharray="5 3.5" stroke-linejoin="round"/>
<path d="M111.4,1829.2 L111.9,1831.8 L112.4,1834.3 L112.9,1836.9 L113.4,1839.4 L113.9,1841.9 L114.4,1844.4 L114.9,1846.9 L115.3,1849.4 L115.8,1851.9 L116.3,1854.3 L116.8,1856.8 L117.3,1859.2 L117.8,1861.7 L118.2,1864.1 L118.7,1866.6 L119.2,1869.0 L119.7,1871.4 L120.1,1873.9 L120.6,1876.3 L121.1,1878.7 L121.5,1881.1 L122.0,1883.5 L122.5,1886.0 L122.9,1888.4 L123.4,1890.8 L123.8,1893.2 L124.3,1895.7 L124.8,1898.1 L125.2,1900.5 L125.7,1902.9 L126.1,1905.4 L126.6,1907.8 L127.0,1910.3 L127.5,1912.7 L127.9,1915.2 L128.4,1917.7 L128.8,1920.1 L129.3,1922.6 L129.7,1925.1 L130.1,1927.6 L130.6,1930.1 L131.0,1932.6 L131.5,1935.2 L131.9,1937.7 L132.4,1940.3 L132.8,1942.8 L133.2,1945.4 L133.7,1948.0 L134.2,1950.6 L134.7,1953.1 L135.3,1955.7 L135.8,1958.2 L136.5,1960.7 L137.1,1963.1 L137.9,1965.6 L138.7,1968.0 L139.5,1970.3 L140.5,1972.6 L141.5,1974.9 L142.6,1977.1 L143.8,1979.2 L145.1,1981.3 L146.5,1983.2 L148.0,1985.1 L149.7,1987.0 L151.4,1988.7 L153.3,1990.3 L155.3,1991.7 L157.3,1993.0 L159.4,1993.9 L161.6,1994.6 L163.9,1995.0 L166.2,1995.0 L168.5,1994.6 L170.9,1994.0 L173.2,1993.2 L175.5,1992.2 L177.8,1991.1 L180.0,1989.9 L182.2,1988.8 L184.3,1987.6 L186.4,1986.4 L188.5,1985.2 L190.5,1984.0 L192.4,1982.7 L194.3,1981.5 L196.2,1980.2 L198.1,1978.8 L200.0,1977.5 L201.8,1976.1 L203.7,1974.6 L205.5,1973.2 L207.3,1971.6 L209.1,1970.1 L211.0,1968.4 L212.8,1966.8 L214.7,1965.0 L216.6,1963.3 L218.5,1961.4 L220.4,1959.5 L222.3,1957.5 L224.3,1955.5 L226.3,1953.5 L228.3,1951.5 L230.4,1949.4 L232.4,1947.4 L234.5,1945.4 L236.5,1943.5 L238.6,1941.7 L240.7,1939.9 L242.7,1938.2 L244.8,1936.6 L246.8,1935.2 L248.9,1933.9 L250.9,1932.7 L252.9,1931.7 L254.9,1930.9 L256.9,1930.4 L258.8,1930.2 L260.8,1930.5 L262.6,1931.1 L264.5,1932.0 L266.3,1933.3 L268.1,1934.8 L269.8,1936.5 L271.5,1938.3 L273.1,1940.3 L274.7,1942.3 L276.3,1944.3 L277.8,1946.4 L279.2,1948.5 L280.6,1950.6 L281.9,1952.7 L283.2,1954.8 L284.5,1957.0 L285.7,1959.1 L286.9,1961.3 L288.0,1963.5 L289.2,1965.8 L290.2,1968.0 L291.3,1970.3 L292.3,1972.5 L293.3,1974.8 L294.3,1977.1 L295.2,1979.4 L296.1,1981.8 L297.0,1984.1 L297.9,1986.4 L298.7,1988.8 L299.6,1991.2 L300.4,1993.5 L301.2,1995.9 L302.0,1998.3 L302.8,2000.7 L303.6,2003.1 L304.4,2005.5 L305.2,2007.9 L306.0,2010.3 L306.7,2012.8 L307.5,2015.2 L308.3,2017.6 L309.1,2020.0 L309.9,2022.5 L310.7,2024.9 L311.5,2027.3 L312.3,2029.8 L313.1,2032.2 L314.0,2034.6 L314.8,2037.1 L315.7,2039.5 L316.6,2041.9 L317.6,2044.3 L318.5,2046.7 L319.5,2049.1 L320.5,2051.5 L321.5,2053.8 L322.6,2056.1 L323.7,2058.4 L324.9,2060.7 L326.1,2062.9 L327.3,2065.0 L328.6,2067.1 L330.0,2069.2 L331.4,2071.2 L332.8,2073.2 L334.3,2075.1 L335.9,2076.9 L337.6,2078.6 L339.3,2080.3 L341.0,2081.9 L342.9,2083.4 L344.8,2084.8 L346.8,2086.2 L348.9,2087.4 L351.0,2088.6 L353.2,2089.6 L355.5,2090.6 L357.9,2091.5 L360.2,2092.3 L362.7,2093.1 L365.1,2093.9 L367.6,2094.5 L370.1,2095.2 L372.5,2095.8 L375.0,2096.4 L377.5,2097.0 L380.0,2097.6 L382.5,2098.1 L385.0,2098.7 L387.4,2099.2 L389.9,2099.6 L392.4,2100.1 L394.9,2100.5 L397.4,2101.0 L399.9,2101.4 L402.4,2101.7 L404.8,2102.1 L407.3,2102.5 L409.8,2102.8 L412.3,2103.1 L414.8,2103.4 L417.3,2103.7 L419.8,2104.0 L422.3,2104.3 L424.8,2104.5 L427.3,2104.8 L429.8,2105.0 L432.3,2105.2 L434.8,2105.4 L437.3,2105.6 L439.8,2105.8 L442.2,2106.0 L444.7,2106.2 L447.2,2106.4 L449.7,2106.5 L452.2,2106.7 L454.7,2106.9 L457.2,2107.0 L459.7,2107.1 L462.2,2107.3 L464.7,2107.4 L467.2,2107.6 L469.7,2107.7 L472.2,2107.8 L474.7,2107.9 L477.2,2108.1 L479.7,2108.2 L482.2,2108.3 L484.7,2108.4 L487.2,2108.5 L489.7,2108.7 L492.2,2108.8 L494.7,2108.9 L497.2,2109.0 L499.7,2109.1 L502.2,2109.3 L504.7,2109.4 L507.3,2109.5 L509.8,2109.6 L512.3,2109.8 L514.8,2109.9 L517.3,2110.0 L519.8,2110.1 L522.3,2110.3 L524.8,2110.4 L527.3,2110.5 L529.8,2110.7 L532.3,2110.8 L534.8,2110.9 L537.3,2111.1 L539.8,2111.2 L542.3,2111.4 L544.8,2111.5 L547.3,2111.6 L549.8,2111.8 L552.3,2111.9 L554.8,2112.0 L557.3,2112.2 L559.8,2112.3 L562.4,2112.5 L564.9,2112.6 L567.4,2112.7 L569.9,2112.9 L572.4,2113.0 L574.9,2113.2 L577.4,2113.3 L579.9,2113.4 L582.4,2113.6 L584.9,2113.7 L587.4,2113.9 L589.9,2114.0 L592.4,2114.1 L594.9,2114.3 L597.4,2114.4 L599.9,2114.5 L602.4,2114.7 L604.9,2114.8 L607.4,2115.0 L610.0,2115.1 L612.5,2115.2 L615.0,2115.4 L617.5,2115.5 L620.0,2115.6 L622.5,2115.8 L625.0,2115.9 L627.5,2116.0 L630.0,2116.2 L632.5,2116.3 L635.0,2116.4 L637.5,2116.6 L640.0,2116.7 L642.5,2116.8 L645.0,2117.0 L647.5,2117.1 L650.0,2117.2 L652.5,2117.3 L655.0,2117.5 L657.5,2117.6 L660.0,2117.7 L662.6,2117.9 L665.1,2118.0 L667.6,2118.1 L670.1,2118.2 L672.6,2118.4 L675.1,2118.5 L677.6,2118.6 L680.1,2118.8 L682.6,2118.9 L685.1,2119.0 L687.6,2119.1 L690.1,2119.3 L692.6,2119.4 L695.1,2119.5 L697.6,2119.6 L700.1,2119.8 L702.6,2119.9 L705.1,2120.0 L707.6,2120.1 L710.1,2120.2 L712.6,2120.4 L715.1,2120.5 L717.6,2120.6 L720.2,2120.7 L722.7,2120.9 L725.2,2121.0 L727.7,2121.1 L730.2,2121.2 L732.7,2121.3 L735.2,2121.5 L737.7,2121.6 L740.2,2121.7 L742.7,2121.8 L745.2,2121.9 L747.7,2122.1 L750.2,2122.2 L752.7,2122.3 L755.2,2122.4 L757.7,2122.5 L760.2,2122.7 L762.7,2122.8 L765.2,2122.9 L767.7,2123.0 L770.2,2123.1 L772.7,2123.2 L775.3,2123.4 L777.8,2123.5 L780.3,2123.6 L782.8,2123.7 L785.3,2123.8 L787.8,2123.9 L790.3,2124.1 L792.8,2124.2 L795.3,2124.3 L797.8,2124.4 L800.3,2124.5 L802.8,2124.6 L805.3,2124.7 L807.8,2124.9 L810.3,2125.0 L812.8,2125.1 L815.3,2125.2 L817.8,2125.3 L820.3,2125.4 L822.8,2125.5 L825.4,2125.7 L827.9,2125.8 L830.4,2125.9 L832.9,2126.0 L835.4,2126.1 L837.9,2126.2 L840.4,2126.3 L842.9,2126.4 L845.4,2126.5 L847.9,2126.7 L850.4,2126.8 L852.9,2126.9 L855.4,2127.0 L857.9,2127.1 L860.4,2127.2 L862.9,2127.3 L865.4,2127.4 L868.0,2127.5 L870.5,2127.7 L873.0,2127.8 L875.5,2127.9 L878.0,2128.0 L880.5,2128.1 L883.0,2128.2 L885.5,2128.3 L888.0,2128.4 L890.5,2128.5" fill="none" stroke="#ff0000" stroke-width="1.3" stroke-linejoin="round"/>
<path d="M111.1,1670.2 L111.4,1672.8 L111.7,1675.3 L112.0,1677.8 L112.3,1680.3 L112.6,1682.8 L112.9,1685.3 L113.1,1687.8 L113.4,1690.3 L113.7,1692.8 L114.0,1695.3 L114.2,1697.8 L114.5,1700.3 L114.7,1702.8 L115.0,1705.3 L115.2,1707.8 L115.5,1710.3 L115.7,1712.8 L116.0,1715.3 L116.2,1717.8 L116.5,1720.3 L116.7,1722.8 L117.0,1725.3 L117.2,1727.8 L117.4,1730.3 L117.7,1732.8 L117.9,1735.3 L118.2,1737.7 L118.4,1740.2 L118.7,1742.7 L118.9,1745.2 L119.2,1747.7 L119.5,1750.2 L119.7,1752.7 L120.0,1755.1 L120.3,1757.6 L120.6,1760.1 L120.8,1762.6 L121.1,1765.1 L121.4,1767.5 L121.7,1770.0 L122.0,1772.5 L122.4,1775.0 L122.7,1777.5 L123.0,1779.9 L123.4,1782.4 L123.7,1784.9 L124.1,1787.4 L124.4,1789.8 L124.8,1792.3 L125.2,1794.8 L125.6,1797.3 L126.0,1799.7 L126.4,1802.2 L126.8,1804.7 L127.3,1807.1 L127.7,1809.6 L128.2,1812.1 L128.7,1814.6 L129.2,1817.0 L129.7,1819.5 L130.2,1822.0 L130.8,1824.4 L131.3,1826.9 L131.9,1829.4 L132.5,1831.8 L133.1,1834.3 L133.8,1836.7 L134.5,1839.2 L135.2,1841.6 L136.0,1844.0 L136.8,1846.5 L137.6,1848.9 L138.4,1851.3 L139.3,1853.7 L140.3,1856.1 L141.2,1858.5 L142.3,1860.9 L143.3,1863.2 L144.4,1865.6 L145.6,1867.9 L146.8,1870.2 L148.1,1872.4 L149.4,1874.6 L150.8,1876.8 L152.2,1878.8 L153.7,1880.8 L155.2,1882.8 L156.8,1884.6 L158.5,1886.3 L160.2,1887.9 L162.0,1889.4 L163.9,1890.7 L165.8,1892.0 L167.8,1893.1 L169.9,1894.0 L172.1,1894.8 L174.3,1895.5 L176.5,1896.0 L178.8,1896.5 L181.2,1896.8 L183.6,1897.0 L186.1,1897.2 L188.6,1897.2 L191.1,1897.2 L193.7,1897.2 L196.3,1897.0 L198.9,1896.9 L201.5,1896.6 L204.1,1896.4 L206.8,1896.1 L209.4,1895.9 L212.1,1895.6 L214.7,1895.3 L217.4,1895.0 L220.0,1894.8 L222.6,1894.6 L225.2,1894.4 L227.8,1894.3 L230.3,1894.2 L232.8,1894.3 L235.3,1894.4 L237.7,1894.5 L240.1,1894.8 L242.5,1895.2 L244.8,1895.8 L247.0,1896.4 L249.2,1897.2 L251.3,1898.1 L253.3,1899.2 L255.3,1900.4 L257.2,1901.7 L259.1,1903.2 L260.9,1904.8 L262.7,1906.4 L264.3,1908.2 L266.0,1910.1 L267.6,1912.0 L269.1,1914.0 L270.6,1916.0 L272.0,1918.1 L273.4,1920.3 L274.7,1922.4 L276.0,1924.6 L277.3,1926.9 L278.5,1929.1 L279.7,1931.4 L280.8,1933.7 L281.9,1936.0 L283.0,1938.3 L284.1,1940.6 L285.1,1943.0 L286.1,1945.3 L287.0,1947.7 L287.9,1950.1 L288.8,1952.5 L289.7,1954.9 L290.6,1957.3 L291.4,1959.7 L292.2,1962.1 L293.0,1964.6 L293.8,1967.0 L294.6,1969.4 L295.3,1971.8 L296.1,1974.3 L296.8,1976.7 L297.6,1979.1 L298.3,1981.6 L299.0,1984.0 L299.7,1986.4 L300.4,1988.8 L301.1,1991.3 L301.9,1993.7 L302.6,1996.1 L303.3,1998.5 L304.0,2000.9 L304.7,2003.3 L305.5,2005.7 L306.2,2008.1 L307.0,2010.5 L307.8,2012.8 L308.6,2015.2 L309.4,2017.6 L310.2,2019.9 L311.1,2022.3 L311.9,2024.6 L312.8,2026.9 L313.7,2029.2 L314.7,2031.5 L315.6,2033.8 L316.6,2036.1 L317.6,2038.4 L318.7,2040.6 L319.8,2042.9 L320.9,2045.1 L322.0,2047.3 L323.2,2049.5 L324.5,2051.6 L325.7,2053.8 L327.0,2055.9 L328.4,2058.0 L329.7,2060.1 L331.2,2062.1 L332.6,2064.1 L334.1,2066.1 L335.7,2068.0 L337.3,2070.0 L338.9,2071.8 L340.6,2073.7 L342.3,2075.5 L344.1,2077.3 L345.9,2079.0 L347.8,2080.7 L349.7,2082.3 L351.7,2083.9 L353.7,2085.5 L355.7,2087.0 L357.7,2088.4 L359.8,2089.8 L361.9,2091.2 L364.0,2092.5 L366.1,2093.7 L368.3,2095.0 L370.4,2096.1 L372.6,2097.2 L374.8,2098.3 L377.1,2099.3 L379.3,2100.3 L381.6,2101.3 L383.9,2102.2 L386.2,2103.0 L388.5,2103.8 L390.9,2104.6 L393.2,2105.3 L395.6,2106.0 L398.0,2106.7 L400.4,2107.3 L402.8,2107.8 L405.2,2108.4 L407.6,2108.9 L410.1,2109.3 L412.5,2109.8 L415.0,2110.1 L417.5,2110.5 L419.9,2110.8 L422.4,2111.1 L424.9,2111.3 L427.4,2111.6 L429.9,2111.7 L432.5,2111.9 L435.0,2112.0 L437.5,2112.1 L440.0,2112.1 L442.6,2112.2 L445.1,2112.2 L447.6,2112.1 L450.2,2112.1 L452.7,2112.0 L455.2,2111.9 L457.8,2111.7 L460.3,2111.6 L462.8,2111.4 L465.4,2111.2 L467.9,2110.9 L470.4,2110.7 L473.0,2110.4 L475.5,2110.1 L478.0,2109.8 L480.6,2109.5 L483.1,2109.2 L485.6,2108.9 L488.1,2108.5 L490.6,2108.2 L493.2,2107.8 L495.7,2107.5 L498.2,2107.2 L500.7,2106.8 L503.2,2106.5 L505.7,2106.2 L508.3,2105.9 L510.8,2105.5 L513.3,2105.3 L515.8,2105.0 L518.3,2104.7 L520.8,2104.5 L523.3,2104.3 L525.8,2104.1 L528.3,2103.9 L530.8,2103.7 L533.3,2103.6 L535.8,2103.5 L538.3,2103.5 L540.8,2103.4 L543.3,2103.4 L545.8,2103.5 L548.3,2103.5 L550.8,2103.6 L553.3,2103.8 L555.8,2103.9 L558.3,2104.1 L560.8,2104.3 L563.3,2104.5 L565.8,2104.8 L568.3,2105.0 L570.8,2105.3 L573.3,2105.6 L575.8,2106.0 L578.2,2106.3 L580.7,2106.6 L583.2,2107.0 L585.7,2107.4 L588.2,2107.8 L590.7,2108.2 L593.2,2108.6 L595.7,2109.0 L598.1,2109.4 L600.6,2109.8 L603.1,2110.2 L605.6,2110.6 L608.1,2111.1 L610.6,2111.5 L613.1,2111.9 L615.5,2112.3 L618.0,2112.7 L620.5,2113.1 L623.0,2113.5 L625.5,2113.9 L628.0,2114.2 L630.4,2114.6 L632.9,2115.0 L635.4,2115.3 L637.9,2115.6 L640.4,2116.0 L642.8,2116.3 L645.3,2116.6 L647.8,2116.9 L650.3,2117.1 L652.8,2117.4 L655.2,2117.7 L657.7,2118.0 L660.2,2118.2 L662.7,2118.5 L665.2,2118.7 L667.6,2118.9 L670.1,2119.1 L672.6,2119.4 L675.1,2119.6 L677.6,2119.8 L680.1,2120.0 L682.5,2120.1 L685.0,2120.3 L687.5,2120.5 L690.0,2120.7 L692.5,2120.8 L695.0,2121.0 L697.4,2121.1 L699.9,2121.3 L702.4,2121.4 L704.9,2121.6 L707.4,2121.7 L709.9,2121.8 L712.3,2121.9 L714.8,2122.0 L717.3,2122.2 L719.8,2122.3 L722.3,2122.4 L724.8,2122.5 L727.3,2122.6 L729.8,2122.7 L732.2,2122.8 L734.7,2122.8 L737.2,2122.9 L739.7,2123.0 L742.2,2123.1 L744.7,2123.2 L747.2,2123.2 L749.7,2123.3 L752.2,2123.4 L754.7,2123.4 L757.2,2123.5 L759.7,2123.6 L762.2,2123.6 L764.7,2123.7 L767.2,2123.8 L769.7,2123.8 L772.2,2123.9 L774.7,2124.0 L777.2,2124.0 L779.7,2124.1 L782.2,2124.1 L784.7,2124.2 L787.2,2124.3 L789.7,2124.3 L792.2,2124.4 L794.7,2124.5 L797.2,2124.5 L799.7,2124.6 L802.2,2124.7 L804.7,2124.7 L807.3,2124.8 L809.8,2124.9 L812.3,2125.0 L814.8,2125.0 L817.3,2125.1 L819.8,2125.2 L822.4,2125.3 L824.9,2125.4 L827.4,2125.5 L829.9,2125.6 L832.5,2125.7 L835.0,2125.8 L837.5,2125.9 L840.0,2126.0 L842.6,2126.1 L845.1,2126.2 L847.6,2126.4 L850.2,2126.5 L852.7,2126.6 L855.3,2126.8 L857.8,2126.9 L860.3,2127.1 L862.9,2127.2 L865.4,2127.4 L868.0,2127.5 L870.5,2127.7 L873.1,2127.9 L875.6,2128.1 L878.2,2128.3 L880.7,2128.5 L883.3,2128.7 L885.8,2128.9 L888.4,2129.1 L890.9,2129.3" fill="none" stroke="#808000" stroke-width="1.3" stroke-linejoin="round"/>
<path d="M111.5,1687.5 L111.5,1690.1 L111.6,1692.7 L111.7,1695.2 L111.8,1697.8 L111.9,1700.4 L112.1,1702.9 L112.2,1705.4 L112.4,1708.0 L112.5,1710.5 L112.7,1713.1 L112.9,1715.6 L113.1,1718.1 L113.3,1720.6 L113.5,1723.1 L113.7,1725.6 L113.9,1728.1 L114.1,1730.6 L114.4,1733.1 L114.6,1735.6 L114.9,1738.1 L115.1,1740.6 L115.4,1743.0 L115.7,1745.5 L115.9,1748.0 L116.2,1750.5 L116.5,1752.9 L116.8,1755.4 L117.1,1757.9 L117.4,1760.3 L117.7,1762.8 L118.0,1765.3 L118.3,1767.7 L118.6,1770.2 L118.9,1772.6 L119.2,1775.1 L119.6,1777.6 L119.9,1780.0 L120.2,1782.5 L120.5,1784.9 L120.9,1787.4 L121.2,1789.9 L121.5,1792.3 L121.9,1794.8 L122.2,1797.3 L122.5,1799.8 L122.9,1802.2 L123.2,1804.7 L123.5,1807.2 L123.8,1809.7 L124.2,1812.2 L124.5,1814.6 L124.8,1817.1 L125.1,1819.6 L125.5,1822.1 L125.8,1824.7 L126.1,1827.2 L126.4,1829.7 L126.7,1832.2 L127.0,1834.7 L127.3,1837.3 L127.6,1839.8 L127.9,1842.3 L128.2,1844.9 L128.5,1847.4 L128.8,1850.0 L129.1,1852.5 L129.4,1855.1 L129.7,1857.6 L130.1,1860.2 L130.4,1862.7 L130.8,1865.2 L131.2,1867.8 L131.7,1870.3 L132.1,1872.8 L132.6,1875.2 L133.2,1877.7 L133.8,1880.2 L134.4,1882.6 L135.0,1885.0 L135.7,1887.4 L136.5,1889.8 L137.3,1892.1 L138.2,1894.4 L139.1,1896.7 L140.1,1899.0 L141.1,1901.2 L142.2,1903.4 L143.4,1905.6 L144.6,1907.7 L146.0,1909.8 L147.4,1911.9 L148.8,1913.9 L150.4,1915.9 L152.1,1917.8 L153.8,1919.7 L155.6,1921.5 L157.5,1923.2 L159.5,1924.8 L161.5,1926.2 L163.5,1927.4 L165.7,1928.4 L167.8,1929.2 L170.1,1929.7 L172.3,1929.9 L174.6,1930.0 L176.9,1929.9 L179.2,1929.6 L181.5,1929.3 L183.8,1928.8 L186.2,1928.2 L188.5,1927.5 L190.9,1926.7 L193.3,1925.8 L195.7,1924.9 L198.1,1923.8 L200.5,1922.8 L202.9,1921.6 L205.3,1920.4 L207.7,1919.2 L210.1,1918.0 L212.5,1916.7 L214.9,1915.5 L217.4,1914.2 L219.8,1913.0 L222.2,1911.8 L224.7,1910.6 L227.1,1909.5 L229.5,1908.4 L231.9,1907.4 L234.3,1906.5 L236.7,1905.7 L239.1,1905.1 L241.5,1904.5 L243.8,1904.1 L246.1,1903.8 L248.4,1903.6 L250.7,1903.6 L252.9,1903.9 L255.0,1904.2 L257.1,1904.8 L259.2,1905.6 L261.1,1906.6 L263.1,1907.8 L264.9,1909.2 L266.7,1910.8 L268.4,1912.5 L270.1,1914.3 L271.7,1916.3 L273.2,1918.4 L274.7,1920.5 L276.2,1922.8 L277.6,1925.1 L278.9,1927.4 L280.2,1929.8 L281.5,1932.3 L282.7,1934.7 L283.9,1937.1 L285.0,1939.5 L286.2,1941.9 L287.3,1944.3 L288.3,1946.7 L289.3,1949.1 L290.3,1951.4 L291.3,1953.8 L292.2,1956.1 L293.2,1958.4 L294.1,1960.8 L294.9,1963.1 L295.8,1965.4 L296.7,1967.7 L297.5,1970.0 L298.3,1972.3 L299.1,1974.6 L299.9,1976.9 L300.7,1979.2 L301.5,1981.5 L302.3,1983.8 L303.0,1986.1 L303.8,1988.5 L304.6,1990.8 L305.4,1993.1 L306.1,1995.4 L306.9,1997.7 L307.7,2000.1 L308.5,2002.4 L309.3,2004.7 L310.1,2007.1 L310.9,2009.5 L311.8,2011.8 L312.7,2014.2 L313.5,2016.6 L314.4,2019.0 L315.3,2021.3 L316.3,2023.7 L317.3,2026.1 L318.2,2028.4 L319.3,2030.8 L320.3,2033.1 L321.4,2035.4 L322.5,2037.7 L323.6,2039.9 L324.8,2042.2 L326.1,2044.4 L327.3,2046.6 L328.6,2048.7 L330.0,2050.8 L331.3,2052.9 L332.8,2055.0 L334.2,2057.0 L335.8,2058.9 L337.4,2060.8 L339.0,2062.7 L340.7,2064.5 L342.4,2066.3 L344.2,2068.0 L346.1,2069.6 L348.0,2071.2 L349.9,2072.7 L352.0,2074.2 L354.0,2075.6 L356.1,2077.0 L358.3,2078.3 L360.5,2079.5 L362.7,2080.7 L365.0,2081.9 L367.3,2083.0 L369.6,2084.0 L371.9,2085.1 L374.2,2086.0 L376.5,2086.9 L378.9,2087.8 L381.3,2088.6 L383.6,2089.4 L386.0,2090.1 L388.4,2090.8 L390.8,2091.5 L393.2,2092.1 L395.6,2092.7 L398.1,2093.2 L400.5,2093.8 L402.9,2094.2 L405.4,2094.7 L407.8,2095.1 L410.3,2095.5 L412.8,2095.8 L415.3,2096.2 L417.7,2096.5 L420.2,2096.7 L422.7,2097.0 L425.2,2097.2 L427.7,2097.4 L430.2,2097.6 L432.7,2097.7 L435.2,2097.9 L437.7,2098.0 L440.2,2098.1 L442.7,2098.2 L445.3,2098.3 L447.8,2098.3 L450.3,2098.3 L452.8,2098.4 L455.4,2098.4 L457.9,2098.4 L460.4,2098.4 L462.9,2098.4 L465.4,2098.4 L468.0,2098.3 L470.5,2098.3 L473.0,2098.3 L475.5,2098.2 L478.0,2098.2 L480.6,2098.1 L483.1,2098.1 L485.6,2098.0 L488.1,2098.0 L490.6,2097.9 L493.1,2097.9 L495.6,2097.8 L498.2,2097.8 L500.7,2097.7 L503.2,2097.7 L505.7,2097.7 L508.2,2097.6 L510.7,2097.6 L513.2,2097.6 L515.7,2097.6 L518.2,2097.5 L520.7,2097.5 L523.2,2097.5 L525.7,2097.6 L528.2,2097.6 L530.7,2097.6 L533.2,2097.7 L535.7,2097.7 L538.2,2097.8 L540.7,2097.9 L543.2,2098.0 L545.7,2098.1 L548.2,2098.2 L550.7,2098.3 L553.2,2098.5 L555.7,2098.7 L558.2,2098.9 L560.7,2099.1 L563.2,2099.3 L565.7,2099.5 L568.2,2099.8 L570.7,2100.1 L573.2,2100.4 L575.7,2100.7 L578.2,2101.0 L580.7,2101.3 L583.2,2101.7 L585.7,2102.0 L588.2,2102.4 L590.7,2102.8 L593.1,2103.2 L595.6,2103.6 L598.1,2104.0 L600.6,2104.4 L603.1,2104.8 L605.6,2105.3 L608.1,2105.7 L610.6,2106.1 L613.1,2106.6 L615.6,2107.0 L618.0,2107.4 L620.5,2107.9 L623.0,2108.3 L625.5,2108.8 L628.0,2109.2 L630.5,2109.6 L633.0,2110.1 L635.5,2110.5 L637.9,2110.9 L640.4,2111.4 L642.9,2111.8 L645.4,2112.2 L647.9,2112.6 L650.4,2113.0 L652.9,2113.3 L655.4,2113.7 L657.8,2114.1 L660.3,2114.4 L662.8,2114.7 L665.3,2115.1 L667.8,2115.4 L670.3,2115.7 L672.8,2116.0 L675.2,2116.3 L677.7,2116.6 L680.2,2116.8 L682.7,2117.1 L685.2,2117.3 L687.7,2117.6 L690.2,2117.8 L692.7,2118.0 L695.2,2118.3 L697.6,2118.5 L700.1,2118.7 L702.6,2118.9 L705.1,2119.1 L707.6,2119.2 L710.1,2119.4 L712.6,2119.6 L715.1,2119.7 L717.6,2119.9 L720.0,2120.1 L722.5,2120.2 L725.0,2120.3 L727.5,2120.5 L730.0,2120.6 L732.5,2120.7 L735.0,2120.9 L737.5,2121.0 L740.0,2121.1 L742.5,2121.2 L745.0,2121.3 L747.5,2121.4 L750.0,2121.5 L752.5,2121.6 L755.0,2121.7 L757.4,2121.8 L759.9,2121.9 L762.4,2122.0 L764.9,2122.1 L767.4,2122.1 L769.9,2122.2 L772.4,2122.3 L774.9,2122.4 L777.4,2122.5 L779.9,2122.6 L782.4,2122.6 L784.9,2122.7 L787.4,2122.8 L789.9,2122.9 L792.5,2123.0 L795.0,2123.0 L797.5,2123.1 L800.0,2123.2 L802.5,2123.3 L805.0,2123.4 L807.5,2123.5 L810.0,2123.5 L812.5,2123.6 L815.0,2123.7 L817.5,2123.8 L820.0,2123.9 L822.6,2124.0 L825.1,2124.1 L827.6,2124.3 L830.1,2124.4 L832.6,2124.5 L835.1,2124.6 L837.6,2124.7 L840.2,2124.9 L842.7,2125.0 L845.2,2125.1 L847.7,2125.3 L850.2,2125.4 L852.8,2125.6 L855.3,2125.8 L857.8,2125.9 L860.3,2126.1 L862.9,2126.3 L865.4,2126.5 L867.9,2126.7 L870.5,2126.9 L873.0,2127.1 L875.5,2127.3 L878.1,2127.5 L880.6,2127.8 L883.1,2128.0 L885.7,2128.3 L888.2,2128.5 L890.7,2128.8" fill="none" stroke="#0000ff" stroke-width="1.3" stroke-linejoin="round"/>
<path d="M111.3,1629.4 L111.5,1631.9 L111.7,1634.5 L112.0,1637.0 L112.3,1639.5 L112.5,1642.0 L112.8,1644.5 L113.1,1647.1 L113.4,1649.6 L113.7,1652.1 L114.1,1654.6 L114.4,1657.1 L114.7,1659.6 L115.1,1662.1 L115.4,1664.5 L115.8,1667.0 L116.1,1669.5 L116.5,1672.0 L116.9,1674.5 L117.3,1677.0 L117.6,1679.5 L118.0,1681.9 L118.4,1684.4 L118.8,1686.9 L119.2,1689.3 L119.6,1691.8 L120.0,1694.3 L120.4,1696.7 L120.8,1699.2 L121.2,1701.7 L121.6,1704.1 L122.0,1706.6 L122.4,1709.1 L122.8,1711.5 L123.2,1714.0 L123.6,1716.4 L123.9,1718.9 L124.3,1721.4 L124.7,1723.8 L125.1,1726.3 L125.4,1728.7 L125.8,1731.2 L126.2,1733.6 L126.5,1736.1 L126.9,1738.5 L127.2,1741.0 L127.6,1743.5 L127.9,1745.9 L128.3,1748.4 L128.7,1750.8 L129.0,1753.3 L129.4,1755.7 L129.8,1758.2 L130.2,1760.7 L130.6,1763.1 L131.0,1765.6 L131.5,1768.0 L131.9,1770.5 L132.4,1773.0 L132.9,1775.4 L133.5,1777.9 L134.0,1780.4 L134.6,1782.9 L135.2,1785.3 L135.8,1787.8 L136.5,1790.3 L137.2,1792.8 L138.0,1795.2 L138.7,1797.7 L139.5,1800.2 L140.4,1802.7 L141.3,1805.2 L142.2,1807.6 L143.2,1810.1 L144.3,1812.5 L145.4,1814.9 L146.5,1817.2 L147.8,1819.4 L149.1,1821.6 L150.4,1823.7 L151.9,1825.7 L153.4,1827.7 L155.0,1829.5 L156.6,1831.2 L158.4,1832.8 L160.3,1834.2 L162.2,1835.6 L164.2,1836.7 L166.3,1837.8 L168.5,1838.7 L170.7,1839.4 L172.9,1840.0 L175.2,1840.4 L177.6,1840.7 L180.0,1840.8 L182.4,1840.8 L184.8,1840.6 L187.3,1840.3 L189.7,1839.8 L192.2,1839.3 L194.8,1838.7 L197.3,1838.1 L199.8,1837.4 L202.4,1836.6 L205.0,1835.8 L207.5,1835.0 L210.1,1834.2 L212.6,1833.5 L215.2,1832.7 L217.7,1832.0 L220.3,1831.4 L222.8,1830.8 L225.3,1830.3 L227.8,1829.9 L230.3,1829.6 L232.7,1829.5 L235.1,1829.5 L237.5,1829.6 L239.9,1829.9 L242.2,1830.4 L244.5,1831.1 L246.7,1831.9 L248.9,1832.9 L251.1,1834.1 L253.2,1835.3 L255.3,1836.7 L257.3,1838.2 L259.2,1839.8 L261.1,1841.5 L262.9,1843.3 L264.7,1845.2 L266.4,1847.2 L268.0,1849.2 L269.6,1851.2 L271.1,1853.3 L272.5,1855.5 L273.8,1857.6 L275.0,1859.8 L276.2,1862.0 L277.3,1864.2 L278.3,1866.4 L279.3,1868.6 L280.2,1870.9 L281.1,1873.1 L281.9,1875.4 L282.7,1877.7 L283.4,1880.0 L284.1,1882.3 L284.8,1884.6 L285.5,1886.9 L286.1,1889.2 L286.8,1891.6 L287.4,1893.9 L288.0,1896.3 L288.6,1898.7 L289.3,1901.1 L289.9,1903.5 L290.6,1905.9 L291.2,1908.3 L291.9,1910.7 L292.7,1913.1 L293.4,1915.5 L294.1,1917.9 L294.8,1920.4 L295.6,1922.8 L296.3,1925.3 L297.1,1927.7 L297.8,1930.2 L298.6,1932.6 L299.3,1935.1 L300.0,1937.5 L300.8,1940.0 L301.5,1942.4 L302.3,1944.9 L303.0,1947.3 L303.7,1949.8 L304.5,1952.3 L305.2,1954.7 L306.0,1957.2 L306.7,1959.6 L307.5,1962.1 L308.3,1964.5 L309.1,1967.0 L309.9,1969.4 L310.7,1971.8 L311.5,1974.3 L312.3,1976.7 L313.2,1979.1 L314.0,1981.5 L314.9,1983.9 L315.8,1986.3 L316.7,1988.7 L317.6,1991.1 L318.6,1993.5 L319.6,1995.8 L320.5,1998.2 L321.6,2000.5 L322.6,2002.8 L323.6,2005.1 L324.7,2007.4 L325.8,2009.6 L327.0,2011.8 L328.1,2014.0 L329.3,2016.2 L330.6,2018.4 L331.8,2020.5 L333.1,2022.6 L334.5,2024.6 L335.8,2026.7 L337.2,2028.6 L338.6,2030.6 L340.1,2032.5 L341.6,2034.4 L343.2,2036.2 L344.8,2038.0 L346.4,2039.8 L348.1,2041.5 L349.8,2043.1 L351.6,2044.7 L353.4,2046.3 L355.2,2047.8 L357.1,2049.3 L359.1,2050.7 L361.1,2052.1 L363.1,2053.4 L365.2,2054.6 L367.3,2055.9 L369.5,2057.1 L371.7,2058.2 L373.9,2059.3 L376.2,2060.4 L378.5,2061.4 L380.8,2062.4 L383.2,2063.4 L385.5,2064.3 L387.9,2065.2 L390.3,2066.1 L392.8,2067.0 L395.2,2067.9 L397.7,2068.7 L400.2,2069.5 L402.7,2070.2 L405.2,2071.0 L407.7,2071.6 L410.2,2072.3 L412.7,2072.9 L415.3,2073.5 L417.8,2074.0 L420.3,2074.4 L422.8,2074.9 L425.3,2075.2 L427.8,2075.5 L430.4,2075.8 L432.9,2076.0 L435.4,2076.2 L437.9,2076.3 L440.4,2076.5 L442.9,2076.5 L445.4,2076.6 L447.9,2076.6 L450.4,2076.5 L452.9,2076.5 L455.4,2076.4 L457.8,2076.3 L460.3,2076.2 L462.8,2076.1 L465.3,2075.9 L467.8,2075.7 L470.3,2075.5 L472.7,2075.3 L475.2,2075.1 L477.7,2074.9 L480.2,2074.7 L482.6,2074.5 L485.1,2074.2 L487.6,2074.0 L490.1,2073.8 L492.5,2073.6 L495.0,2073.3 L497.5,2073.1 L499.9,2072.9 L502.4,2072.8 L504.8,2072.6 L507.3,2072.4 L509.8,2072.3 L512.2,2072.2 L514.7,2072.1 L517.1,2072.0 L519.6,2072.0 L522.1,2072.0 L524.5,2072.0 L527.0,2072.0 L529.4,2072.1 L531.9,2072.2 L534.3,2072.4 L536.8,2072.6 L539.2,2072.8 L541.7,2073.1 L544.2,2073.4 L546.6,2073.7 L549.1,2074.1 L551.5,2074.6 L554.0,2075.0 L556.4,2075.5 L558.9,2076.1 L561.3,2076.6 L563.8,2077.2 L566.2,2077.8 L568.7,2078.4 L571.1,2079.1 L573.6,2079.8 L576.0,2080.5 L578.5,2081.2 L580.9,2081.9 L583.4,2082.6 L585.8,2083.4 L588.2,2084.2 L590.7,2084.9 L593.1,2085.7 L595.6,2086.5 L598.0,2087.3 L600.5,2088.1 L602.9,2088.9 L605.4,2089.7 L607.8,2090.4 L610.3,2091.2 L612.7,2092.0 L615.2,2092.8 L617.6,2093.5 L620.1,2094.3 L622.5,2095.0 L625.0,2095.7 L627.4,2096.4 L629.9,2097.1 L632.3,2097.8 L634.8,2098.4 L637.2,2099.0 L639.7,2099.7 L642.1,2100.3 L644.6,2100.9 L647.0,2101.4 L649.5,2102.0 L651.9,2102.5 L654.4,2103.1 L656.8,2103.6 L659.3,2104.1 L661.7,2104.6 L664.2,2105.1 L666.6,2105.5 L669.1,2106.0 L671.5,2106.4 L674.0,2106.9 L676.4,2107.3 L678.9,2107.7 L681.4,2108.1 L683.8,2108.5 L686.3,2108.9 L688.7,2109.2 L691.2,2109.6 L693.6,2109.9 L696.1,2110.3 L698.6,2110.6 L701.0,2110.9 L703.5,2111.2 L705.9,2111.5 L708.4,2111.8 L710.9,2112.1 L713.3,2112.4 L715.8,2112.7 L718.3,2112.9 L720.7,2113.2 L723.2,2113.5 L725.7,2113.7 L728.1,2114.0 L730.6,2114.2 L733.1,2114.4 L735.5,2114.7 L738.0,2114.9 L740.5,2115.1 L742.9,2115.4 L745.4,2115.6 L747.9,2115.8 L750.4,2116.1 L752.8,2116.3 L755.3,2116.5 L757.8,2116.7 L760.3,2116.9 L762.8,2117.2 L765.2,2117.4 L767.7,2117.6 L770.2,2117.8 L772.7,2118.1 L775.2,2118.3 L777.7,2118.6 L780.1,2118.8 L782.6,2119.0 L785.1,2119.3 L787.6,2119.5 L790.1,2119.8 L792.6,2120.1 L795.1,2120.3 L797.6,2120.6 L800.1,2120.9 L802.6,2121.2 L805.1,2121.5 L807.6,2121.8 L810.1,2122.1 L812.6,2122.4 L815.1,2122.7 L817.6,2123.0 L820.1,2123.3 L822.6,2123.6 L825.1,2124.0 L827.6,2124.3 L830.1,2124.6 L832.6,2124.9 L835.2,2125.2 L837.7,2125.5 L840.2,2125.8 L842.7,2126.0 L845.2,2126.3 L847.7,2126.6 L850.3,2126.8 L852.8,2127.0 L855.3,2127.3 L857.8,2127.5 L860.4,2127.6 L862.9,2127.8 L865.4,2128.0 L868.0,2128.1 L870.5,2128.2 L873.0,2128.3 L875.6,2128.4 L878.1,2128.4 L880.7,2128.4 L883.2,2128.4 L885.8,2128.4 L888.3,2128.3 L890.8,2128.2" fill="none" stroke="#ff8000" stroke-width="1.3" stroke-linejoin="round"/>
<rect x="520.5" y="1581.5" width="344" height="246" fill="#fff" stroke="#000" stroke-width="1.3"/>
<line x1="524.8" y1="1599.3" x2="587" y2="1599.3" stroke="#000" stroke-width="1.3" stroke-dasharray="5 3.5"/>
<text x="594.0" y="1608.0" font-size="27.45" text-anchor="start" font-weight="normal" >BSA *</text>
<line x1="524.8" y1="1641.8" x2="587" y2="1641.8" stroke="#ff0000" stroke-width="1.3"/>
<text x="594.0" y="1650.5" font-size="27.45" text-anchor="start" font-weight="normal" >BSA * + 0.1 mM FeCl<tspan font-size="16" dy="12">3</tspan></text>
<line x1="524.8" y1="1684.5" x2="587" y2="1684.5" stroke="#0000ff" stroke-width="1.3"/>
<text x="594.0" y="1693.2" font-size="27.45" text-anchor="start" font-weight="normal" >BSA * + 0.2 mM FeCl<tspan font-size="16" dy="12">3</tspan></text>
<line x1="524.8" y1="1727.0" x2="587" y2="1727.0" stroke="#808000" stroke-width="1.3"/>
<text x="594.0" y="1735.7" font-size="27.45" text-anchor="start" font-weight="normal" >BSA * + 0.3 mM FeCl<tspan font-size="16" dy="12">3</tspan></text>
<line x1="524.8" y1="1769.8" x2="587" y2="1769.8" stroke="#ff8000" stroke-width="1.3"/>
<text x="594.0" y="1778.5" font-size="27.45" text-anchor="start" font-weight="normal" >BSA * + 0.4 mM FeCl<tspan font-size="16" dy="12">3</tspan></text>
<text x="600.3" y="1821.0" font-size="27.45" text-anchor="start" font-weight="normal" >* + 20 mM NaCl</text>
</svg></body></html>
